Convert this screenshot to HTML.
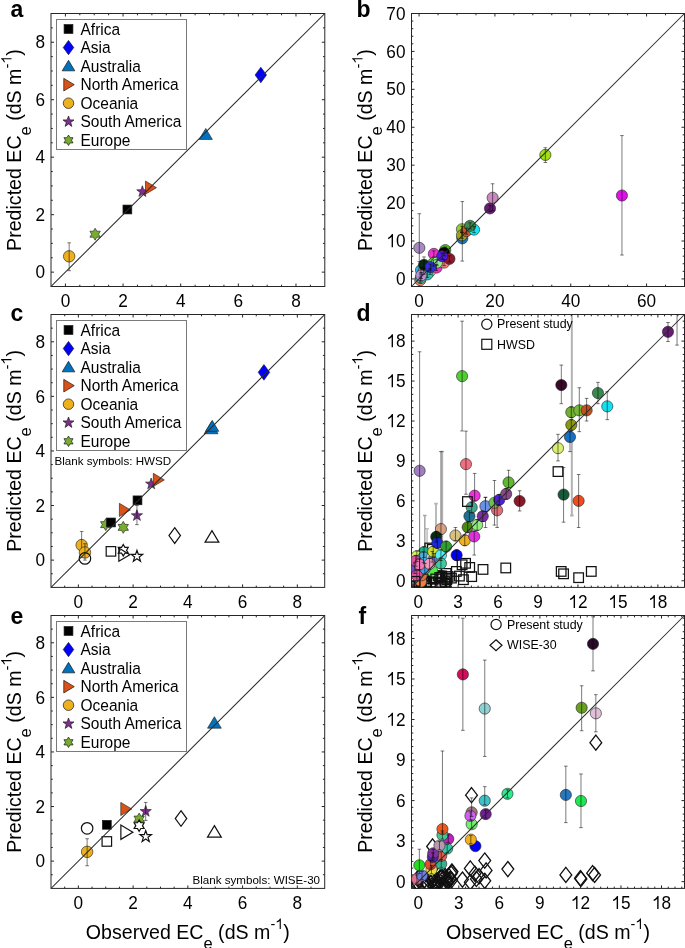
<!DOCTYPE html><html><head><meta charset="utf-8"><style>html,body{margin:0;padding:0;background:#fff;}svg text{fill:#000} svg{will-change:transform}</style></head><body><svg width="685" height="948" viewBox="0 0 685 948" font-family='"Liberation Sans", sans-serif' style="display:block">
<rect width="685" height="948" fill="#fff"/>
<rect x="51" y="13.5" width="273.8" height="273" fill="none" stroke="#262626" stroke-width="1"/>
<path d="M65.41 286.5v-3.0M65.41 13.5v3.0M79.82 286.5v-1.8M79.82 13.5v1.8M94.23 286.5v-1.8M94.23 13.5v1.8M108.64 286.5v-1.8M108.64 13.5v1.8M123.05 286.5v-3.0M123.05 13.5v3.0M137.46 286.5v-1.8M137.46 13.5v1.8M151.87 286.5v-1.8M151.87 13.5v1.8M166.28 286.5v-1.8M166.28 13.5v1.8M180.69 286.5v-3.0M180.69 13.5v3.0M195.11 286.5v-1.8M195.11 13.5v1.8M209.52 286.5v-1.8M209.52 13.5v1.8M223.93 286.5v-1.8M223.93 13.5v1.8M238.34 286.5v-3.0M238.34 13.5v3.0M252.75 286.5v-1.8M252.75 13.5v1.8M267.16 286.5v-1.8M267.16 13.5v1.8M281.57 286.5v-1.8M281.57 13.5v1.8M295.98 286.5v-3.0M295.98 13.5v3.0M310.39 286.5v-1.8M310.39 13.5v1.8M51 272.13h3.0M324.8 272.13h-3.0M51 257.76h1.8M324.8 257.76h-1.8M51 243.39h1.8M324.8 243.39h-1.8M51 229.03h1.8M324.8 229.03h-1.8M51 214.66h3.0M324.8 214.66h-3.0M51 200.29h1.8M324.8 200.29h-1.8M51 185.92h1.8M324.8 185.92h-1.8M51 171.55h1.8M324.8 171.55h-1.8M51 157.18h3.0M324.8 157.18h-3.0M51 142.82h1.8M324.8 142.82h-1.8M51 128.45h1.8M324.8 128.45h-1.8M51 114.08h1.8M324.8 114.08h-1.8M51 99.71h3.0M324.8 99.71h-3.0M51 85.34h1.8M324.8 85.34h-1.8M51 70.97h1.8M324.8 70.97h-1.8M51 56.61h1.8M324.8 56.61h-1.8M51 42.24h3.0M324.8 42.24h-3.0M51 27.87h1.8M324.8 27.87h-1.8" stroke="#262626" stroke-width="1" fill="none"/>
<text transform="translate(60.63,307.2) scale(1,1.06)" font-size="17.2">0</text>
<text transform="translate(118.27,307.2) scale(1,1.06)" font-size="17.2">2</text>
<text transform="translate(175.91,307.2) scale(1,1.06)" font-size="17.2">4</text>
<text transform="translate(233.56,307.2) scale(1,1.06)" font-size="17.2">6</text>
<text transform="translate(291.2,307.2) scale(1,1.06)" font-size="17.2">8</text>
<text transform="translate(35.44,278.28) scale(1,1.06)" font-size="17.2">0</text>
<text transform="translate(35.44,220.81) scale(1,1.06)" font-size="17.2">2</text>
<text transform="translate(35.44,163.33) scale(1,1.06)" font-size="17.2">4</text>
<text transform="translate(35.44,105.86) scale(1,1.06)" font-size="17.2">6</text>
<text transform="translate(35.44,48.39) scale(1,1.06)" font-size="17.2">8</text>
<rect x="411.5" y="13.5" width="273" height="273" fill="none" stroke="#262626" stroke-width="1"/>
<path d="M419.08 286.5v-3.0M419.08 13.5v3.0M438.04 286.5v-1.8M438.04 13.5v1.8M457 286.5v-1.8M457 13.5v1.8M475.96 286.5v-1.8M475.96 13.5v1.8M494.92 286.5v-3.0M494.92 13.5v3.0M513.88 286.5v-1.8M513.88 13.5v1.8M532.83 286.5v-1.8M532.83 13.5v1.8M551.79 286.5v-1.8M551.79 13.5v1.8M570.75 286.5v-3.0M570.75 13.5v3.0M589.71 286.5v-1.8M589.71 13.5v1.8M608.67 286.5v-1.8M608.67 13.5v1.8M627.62 286.5v-1.8M627.62 13.5v1.8M646.58 286.5v-3.0M646.58 13.5v3.0M665.54 286.5v-1.8M665.54 13.5v1.8M411.5 278.92h3.0M684.5 278.92h-3.0M411.5 271.33h1.8M684.5 271.33h-1.8M411.5 263.75h1.8M684.5 263.75h-1.8M411.5 256.17h1.8M684.5 256.17h-1.8M411.5 248.58h1.8M684.5 248.58h-1.8M411.5 241h3.0M684.5 241h-3.0M411.5 233.42h1.8M684.5 233.42h-1.8M411.5 225.83h1.8M684.5 225.83h-1.8M411.5 218.25h1.8M684.5 218.25h-1.8M411.5 210.67h1.8M684.5 210.67h-1.8M411.5 203.08h3.0M684.5 203.08h-3.0M411.5 195.5h1.8M684.5 195.5h-1.8M411.5 187.92h1.8M684.5 187.92h-1.8M411.5 180.33h1.8M684.5 180.33h-1.8M411.5 172.75h1.8M684.5 172.75h-1.8M411.5 165.17h3.0M684.5 165.17h-3.0M411.5 157.58h1.8M684.5 157.58h-1.8M411.5 150h1.8M684.5 150h-1.8M411.5 142.42h1.8M684.5 142.42h-1.8M411.5 134.83h1.8M684.5 134.83h-1.8M411.5 127.25h3.0M684.5 127.25h-3.0M411.5 119.67h1.8M684.5 119.67h-1.8M411.5 112.08h1.8M684.5 112.08h-1.8M411.5 104.5h1.8M684.5 104.5h-1.8M411.5 96.92h1.8M684.5 96.92h-1.8M411.5 89.33h3.0M684.5 89.33h-3.0M411.5 81.75h1.8M684.5 81.75h-1.8M411.5 74.17h1.8M684.5 74.17h-1.8M411.5 66.58h1.8M684.5 66.58h-1.8M411.5 59h1.8M684.5 59h-1.8M411.5 51.42h3.0M684.5 51.42h-3.0M411.5 43.83h1.8M684.5 43.83h-1.8M411.5 36.25h1.8M684.5 36.25h-1.8M411.5 28.67h1.8M684.5 28.67h-1.8M411.5 21.08h1.8M684.5 21.08h-1.8" stroke="#262626" stroke-width="1" fill="none"/>
<text transform="translate(414.3,307.2) scale(1,1.06)" font-size="17.2">0</text>
<text transform="translate(485.35,307.2) scale(1,1.06)" font-size="17.2">2</text>
<text transform="translate(494.92,307.2) scale(1,1.06)" font-size="17.2">0</text>
<text transform="translate(561.19,307.2) scale(1,1.06)" font-size="17.2">4</text>
<text transform="translate(570.75,307.2) scale(1,1.06)" font-size="17.2">0</text>
<text transform="translate(637.02,307.2) scale(1,1.06)" font-size="17.2">6</text>
<text transform="translate(646.58,307.2) scale(1,1.06)" font-size="17.2">0</text>
<text transform="translate(395.94,285.07) scale(1,1.06)" font-size="17.2">0</text>
<path transform="translate(386.37,247.15) scale(17.2,-18.23)" d="M0.385 0L0.305 0L0.305 0.555C0.255 0.51 0.17 0.465 0.1 0.44L0.1 0.52C0.2 0.56 0.28 0.63 0.325 0.716L0.385 0.716Z" fill="#000"/>
<text transform="translate(395.94,247.15) scale(1,1.06)" font-size="17.2">0</text>
<text transform="translate(386.37,209.23) scale(1,1.06)" font-size="17.2">2</text>
<text transform="translate(395.94,209.23) scale(1,1.06)" font-size="17.2">0</text>
<text transform="translate(386.37,171.32) scale(1,1.06)" font-size="17.2">3</text>
<text transform="translate(395.94,171.32) scale(1,1.06)" font-size="17.2">0</text>
<text transform="translate(386.37,133.4) scale(1,1.06)" font-size="17.2">4</text>
<text transform="translate(395.94,133.4) scale(1,1.06)" font-size="17.2">0</text>
<text transform="translate(386.37,95.48) scale(1,1.06)" font-size="17.2">5</text>
<text transform="translate(395.94,95.48) scale(1,1.06)" font-size="17.2">0</text>
<text transform="translate(386.37,57.57) scale(1,1.06)" font-size="17.2">6</text>
<text transform="translate(395.94,57.57) scale(1,1.06)" font-size="17.2">0</text>
<text transform="translate(386.37,19.65) scale(1,1.06)" font-size="17.2">7</text>
<text transform="translate(395.94,19.65) scale(1,1.06)" font-size="17.2">0</text>
<rect x="51" y="314.5" width="273.7" height="272.9" fill="none" stroke="#262626" stroke-width="1"/>
<path d="M64.69 587.4v-1.8M64.69 314.5v1.8M78.37 587.4v-3.0M78.37 314.5v3.0M92.06 587.4v-1.8M92.06 314.5v1.8M105.74 587.4v-1.8M105.74 314.5v1.8M119.42 587.4v-1.8M119.42 314.5v1.8M133.11 587.4v-3.0M133.11 314.5v3.0M146.79 587.4v-1.8M146.79 314.5v1.8M160.48 587.4v-1.8M160.48 314.5v1.8M174.16 587.4v-1.8M174.16 314.5v1.8M187.85 587.4v-3.0M187.85 314.5v3.0M201.53 587.4v-1.8M201.53 314.5v1.8M215.22 587.4v-1.8M215.22 314.5v1.8M228.91 587.4v-1.8M228.91 314.5v1.8M242.59 587.4v-3.0M242.59 314.5v3.0M256.27 587.4v-1.8M256.27 314.5v1.8M269.96 587.4v-1.8M269.96 314.5v1.8M283.64 587.4v-1.8M283.64 314.5v1.8M297.33 587.4v-3.0M297.33 314.5v3.0M311.01 587.4v-1.8M311.01 314.5v1.8M51 573.75h1.8M324.7 573.75h-1.8M51 560.11h3.0M324.7 560.11h-3.0M51 546.47h1.8M324.7 546.47h-1.8M51 532.82h1.8M324.7 532.82h-1.8M51 519.17h1.8M324.7 519.17h-1.8M51 505.53h3.0M324.7 505.53h-3.0M51 491.88h1.8M324.7 491.88h-1.8M51 478.24h1.8M324.7 478.24h-1.8M51 464.59h1.8M324.7 464.59h-1.8M51 450.95h3.0M324.7 450.95h-3.0M51 437.3h1.8M324.7 437.3h-1.8M51 423.66h1.8M324.7 423.66h-1.8M51 410.01h1.8M324.7 410.01h-1.8M51 396.37h3.0M324.7 396.37h-3.0M51 382.73h1.8M324.7 382.73h-1.8M51 369.08h1.8M324.7 369.08h-1.8M51 355.44h1.8M324.7 355.44h-1.8M51 341.79h3.0M324.7 341.79h-3.0M51 328.15h1.8M324.7 328.15h-1.8" stroke="#262626" stroke-width="1" fill="none"/>
<text transform="translate(73.59,608.1) scale(1,1.06)" font-size="17.2">0</text>
<text transform="translate(128.33,608.1) scale(1,1.06)" font-size="17.2">2</text>
<text transform="translate(183.07,608.1) scale(1,1.06)" font-size="17.2">4</text>
<text transform="translate(237.81,608.1) scale(1,1.06)" font-size="17.2">6</text>
<text transform="translate(292.55,608.1) scale(1,1.06)" font-size="17.2">8</text>
<text transform="translate(35.44,566.26) scale(1,1.06)" font-size="17.2">0</text>
<text transform="translate(35.44,511.68) scale(1,1.06)" font-size="17.2">2</text>
<text transform="translate(35.44,457.1) scale(1,1.06)" font-size="17.2">4</text>
<text transform="translate(35.44,402.52) scale(1,1.06)" font-size="17.2">6</text>
<text transform="translate(35.44,347.94) scale(1,1.06)" font-size="17.2">8</text>
<rect x="411.5" y="314.5" width="273" height="272.9" fill="none" stroke="#262626" stroke-width="1"/>
<path d="M418.16 587.4v-3.0M418.16 314.5v3.0M424.82 587.4v-1.8M424.82 314.5v1.8M431.48 587.4v-1.8M431.48 314.5v1.8M438.13 587.4v-1.8M438.13 314.5v1.8M444.79 587.4v-1.8M444.79 314.5v1.8M451.45 587.4v-1.8M451.45 314.5v1.8M458.11 587.4v-3.0M458.11 314.5v3.0M464.77 587.4v-1.8M464.77 314.5v1.8M471.43 587.4v-1.8M471.43 314.5v1.8M478.09 587.4v-1.8M478.09 314.5v1.8M484.74 587.4v-1.8M484.74 314.5v1.8M491.4 587.4v-1.8M491.4 314.5v1.8M498.06 587.4v-3.0M498.06 314.5v3.0M504.72 587.4v-1.8M504.72 314.5v1.8M511.38 587.4v-1.8M511.38 314.5v1.8M518.04 587.4v-1.8M518.04 314.5v1.8M524.7 587.4v-1.8M524.7 314.5v1.8M531.35 587.4v-1.8M531.35 314.5v1.8M538.01 587.4v-3.0M538.01 314.5v3.0M544.67 587.4v-1.8M544.67 314.5v1.8M551.33 587.4v-1.8M551.33 314.5v1.8M557.99 587.4v-1.8M557.99 314.5v1.8M564.65 587.4v-1.8M564.65 314.5v1.8M571.3 587.4v-1.8M571.3 314.5v1.8M577.96 587.4v-3.0M577.96 314.5v3.0M584.62 587.4v-1.8M584.62 314.5v1.8M591.28 587.4v-1.8M591.28 314.5v1.8M597.94 587.4v-1.8M597.94 314.5v1.8M604.6 587.4v-1.8M604.6 314.5v1.8M611.26 587.4v-1.8M611.26 314.5v1.8M617.91 587.4v-3.0M617.91 314.5v3.0M624.57 587.4v-1.8M624.57 314.5v1.8M631.23 587.4v-1.8M631.23 314.5v1.8M637.89 587.4v-1.8M637.89 314.5v1.8M644.55 587.4v-1.8M644.55 314.5v1.8M651.21 587.4v-1.8M651.21 314.5v1.8M657.87 587.4v-3.0M657.87 314.5v3.0M664.52 587.4v-1.8M664.52 314.5v1.8M671.18 587.4v-1.8M671.18 314.5v1.8M677.84 587.4v-1.8M677.84 314.5v1.8M411.5 580.74h3.0M684.5 580.74h-3.0M411.5 574.09h1.8M684.5 574.09h-1.8M411.5 567.43h1.8M684.5 567.43h-1.8M411.5 560.78h1.8M684.5 560.78h-1.8M411.5 554.12h1.8M684.5 554.12h-1.8M411.5 547.46h1.8M684.5 547.46h-1.8M411.5 540.81h3.0M684.5 540.81h-3.0M411.5 534.15h1.8M684.5 534.15h-1.8M411.5 527.5h1.8M684.5 527.5h-1.8M411.5 520.84h1.8M684.5 520.84h-1.8M411.5 514.18h1.8M684.5 514.18h-1.8M411.5 507.53h1.8M684.5 507.53h-1.8M411.5 500.87h3.0M684.5 500.87h-3.0M411.5 494.21h1.8M684.5 494.21h-1.8M411.5 487.56h1.8M684.5 487.56h-1.8M411.5 480.9h1.8M684.5 480.9h-1.8M411.5 474.25h1.8M684.5 474.25h-1.8M411.5 467.59h1.8M684.5 467.59h-1.8M411.5 460.93h3.0M684.5 460.93h-3.0M411.5 454.28h1.8M684.5 454.28h-1.8M411.5 447.62h1.8M684.5 447.62h-1.8M411.5 440.97h1.8M684.5 440.97h-1.8M411.5 434.31h1.8M684.5 434.31h-1.8M411.5 427.65h1.8M684.5 427.65h-1.8M411.5 421h3.0M684.5 421h-3.0M411.5 414.34h1.8M684.5 414.34h-1.8M411.5 407.69h1.8M684.5 407.69h-1.8M411.5 401.03h1.8M684.5 401.03h-1.8M411.5 394.37h1.8M684.5 394.37h-1.8M411.5 387.72h1.8M684.5 387.72h-1.8M411.5 381.06h3.0M684.5 381.06h-3.0M411.5 374.4h1.8M684.5 374.4h-1.8M411.5 367.75h1.8M684.5 367.75h-1.8M411.5 361.09h1.8M684.5 361.09h-1.8M411.5 354.44h1.8M684.5 354.44h-1.8M411.5 347.78h1.8M684.5 347.78h-1.8M411.5 341.12h3.0M684.5 341.12h-3.0M411.5 334.47h1.8M684.5 334.47h-1.8M411.5 327.81h1.8M684.5 327.81h-1.8M411.5 321.16h1.8M684.5 321.16h-1.8" stroke="#262626" stroke-width="1" fill="none"/>
<text transform="translate(413.38,608.1) scale(1,1.06)" font-size="17.2">0</text>
<text transform="translate(453.33,608.1) scale(1,1.06)" font-size="17.2">3</text>
<text transform="translate(493.28,608.1) scale(1,1.06)" font-size="17.2">6</text>
<text transform="translate(533.23,608.1) scale(1,1.06)" font-size="17.2">9</text>
<path transform="translate(568.4,608.1) scale(17.2,-18.23)" d="M0.385 0L0.305 0L0.305 0.555C0.255 0.51 0.17 0.465 0.1 0.44L0.1 0.52C0.2 0.56 0.28 0.63 0.325 0.716L0.385 0.716Z" fill="#000"/>
<text transform="translate(577.96,608.1) scale(1,1.06)" font-size="17.2">2</text>
<path transform="translate(608.35,608.1) scale(17.2,-18.23)" d="M0.385 0L0.305 0L0.305 0.555C0.255 0.51 0.17 0.465 0.1 0.44L0.1 0.52C0.2 0.56 0.28 0.63 0.325 0.716L0.385 0.716Z" fill="#000"/>
<text transform="translate(617.91,608.1) scale(1,1.06)" font-size="17.2">5</text>
<path transform="translate(648.3,608.1) scale(17.2,-18.23)" d="M0.385 0L0.305 0L0.305 0.555C0.255 0.51 0.17 0.465 0.1 0.44L0.1 0.52C0.2 0.56 0.28 0.63 0.325 0.716L0.385 0.716Z" fill="#000"/>
<text transform="translate(657.87,608.1) scale(1,1.06)" font-size="17.2">8</text>
<text transform="translate(395.94,586.89) scale(1,1.06)" font-size="17.2">0</text>
<text transform="translate(395.94,546.96) scale(1,1.06)" font-size="17.2">3</text>
<text transform="translate(395.94,507.02) scale(1,1.06)" font-size="17.2">6</text>
<text transform="translate(395.94,467.08) scale(1,1.06)" font-size="17.2">9</text>
<path transform="translate(386.37,427.15) scale(17.2,-18.23)" d="M0.385 0L0.305 0L0.305 0.555C0.255 0.51 0.17 0.465 0.1 0.44L0.1 0.52C0.2 0.56 0.28 0.63 0.325 0.716L0.385 0.716Z" fill="#000"/>
<text transform="translate(395.94,427.15) scale(1,1.06)" font-size="17.2">2</text>
<path transform="translate(386.37,387.21) scale(17.2,-18.23)" d="M0.385 0L0.305 0L0.305 0.555C0.255 0.51 0.17 0.465 0.1 0.44L0.1 0.52C0.2 0.56 0.28 0.63 0.325 0.716L0.385 0.716Z" fill="#000"/>
<text transform="translate(395.94,387.21) scale(1,1.06)" font-size="17.2">5</text>
<path transform="translate(386.37,347.27) scale(17.2,-18.23)" d="M0.385 0L0.305 0L0.305 0.555C0.255 0.51 0.17 0.465 0.1 0.44L0.1 0.52C0.2 0.56 0.28 0.63 0.325 0.716L0.385 0.716Z" fill="#000"/>
<text transform="translate(395.94,347.27) scale(1,1.06)" font-size="17.2">8</text>
<rect x="51" y="615.5" width="273.7" height="272.9" fill="none" stroke="#262626" stroke-width="1"/>
<path d="M64.69 888.4v-1.8M64.69 615.5v1.8M78.37 888.4v-3.0M78.37 615.5v3.0M92.06 888.4v-1.8M92.06 615.5v1.8M105.74 888.4v-1.8M105.74 615.5v1.8M119.42 888.4v-1.8M119.42 615.5v1.8M133.11 888.4v-3.0M133.11 615.5v3.0M146.79 888.4v-1.8M146.79 615.5v1.8M160.48 888.4v-1.8M160.48 615.5v1.8M174.16 888.4v-1.8M174.16 615.5v1.8M187.85 888.4v-3.0M187.85 615.5v3.0M201.53 888.4v-1.8M201.53 615.5v1.8M215.22 888.4v-1.8M215.22 615.5v1.8M228.91 888.4v-1.8M228.91 615.5v1.8M242.59 888.4v-3.0M242.59 615.5v3.0M256.27 888.4v-1.8M256.27 615.5v1.8M269.96 888.4v-1.8M269.96 615.5v1.8M283.64 888.4v-1.8M283.64 615.5v1.8M297.33 888.4v-3.0M297.33 615.5v3.0M311.01 888.4v-1.8M311.01 615.5v1.8M51 874.75h1.8M324.7 874.75h-1.8M51 861.11h3.0M324.7 861.11h-3.0M51 847.47h1.8M324.7 847.47h-1.8M51 833.82h1.8M324.7 833.82h-1.8M51 820.17h1.8M324.7 820.17h-1.8M51 806.53h3.0M324.7 806.53h-3.0M51 792.88h1.8M324.7 792.88h-1.8M51 779.24h1.8M324.7 779.24h-1.8M51 765.6h1.8M324.7 765.6h-1.8M51 751.95h3.0M324.7 751.95h-3.0M51 738.3h1.8M324.7 738.3h-1.8M51 724.66h1.8M324.7 724.66h-1.8M51 711.01h1.8M324.7 711.01h-1.8M51 697.37h3.0M324.7 697.37h-3.0M51 683.73h1.8M324.7 683.73h-1.8M51 670.08h1.8M324.7 670.08h-1.8M51 656.43h1.8M324.7 656.43h-1.8M51 642.79h3.0M324.7 642.79h-3.0M51 629.14h1.8M324.7 629.14h-1.8" stroke="#262626" stroke-width="1" fill="none"/>
<text transform="translate(73.59,909.1) scale(1,1.06)" font-size="17.2">0</text>
<text transform="translate(128.33,909.1) scale(1,1.06)" font-size="17.2">2</text>
<text transform="translate(183.07,909.1) scale(1,1.06)" font-size="17.2">4</text>
<text transform="translate(237.81,909.1) scale(1,1.06)" font-size="17.2">6</text>
<text transform="translate(292.55,909.1) scale(1,1.06)" font-size="17.2">8</text>
<text transform="translate(35.44,867.26) scale(1,1.06)" font-size="17.2">0</text>
<text transform="translate(35.44,812.68) scale(1,1.06)" font-size="17.2">2</text>
<text transform="translate(35.44,758.1) scale(1,1.06)" font-size="17.2">4</text>
<text transform="translate(35.44,703.52) scale(1,1.06)" font-size="17.2">6</text>
<text transform="translate(35.44,648.94) scale(1,1.06)" font-size="17.2">8</text>
<rect x="411.5" y="615.5" width="273" height="272.9" fill="none" stroke="#262626" stroke-width="1"/>
<path d="M418.26 888.4v-3.0M418.26 615.5v3.0M425.01 888.4v-1.8M425.01 615.5v1.8M431.77 888.4v-1.8M431.77 615.5v1.8M438.53 888.4v-1.8M438.53 615.5v1.8M445.29 888.4v-1.8M445.29 615.5v1.8M452.04 888.4v-1.8M452.04 615.5v1.8M458.8 888.4v-3.0M458.8 615.5v3.0M465.56 888.4v-1.8M465.56 615.5v1.8M472.32 888.4v-1.8M472.32 615.5v1.8M479.07 888.4v-1.8M479.07 615.5v1.8M485.83 888.4v-1.8M485.83 615.5v1.8M492.59 888.4v-1.8M492.59 615.5v1.8M499.35 888.4v-3.0M499.35 615.5v3.0M506.1 888.4v-1.8M506.1 615.5v1.8M512.86 888.4v-1.8M512.86 615.5v1.8M519.62 888.4v-1.8M519.62 615.5v1.8M526.38 888.4v-1.8M526.38 615.5v1.8M533.13 888.4v-1.8M533.13 615.5v1.8M539.89 888.4v-3.0M539.89 615.5v3.0M546.65 888.4v-1.8M546.65 615.5v1.8M553.41 888.4v-1.8M553.41 615.5v1.8M560.16 888.4v-1.8M560.16 615.5v1.8M566.92 888.4v-1.8M566.92 615.5v1.8M573.68 888.4v-1.8M573.68 615.5v1.8M580.44 888.4v-3.0M580.44 615.5v3.0M587.19 888.4v-1.8M587.19 615.5v1.8M593.95 888.4v-1.8M593.95 615.5v1.8M600.71 888.4v-1.8M600.71 615.5v1.8M607.47 888.4v-1.8M607.47 615.5v1.8M614.22 888.4v-1.8M614.22 615.5v1.8M620.98 888.4v-3.0M620.98 615.5v3.0M627.74 888.4v-1.8M627.74 615.5v1.8M634.5 888.4v-1.8M634.5 615.5v1.8M641.25 888.4v-1.8M641.25 615.5v1.8M648.01 888.4v-1.8M648.01 615.5v1.8M654.77 888.4v-1.8M654.77 615.5v1.8M661.52 888.4v-3.0M661.52 615.5v3.0M668.28 888.4v-1.8M668.28 615.5v1.8M675.04 888.4v-1.8M675.04 615.5v1.8M681.8 888.4v-1.8M681.8 615.5v1.8M411.5 881.65h3.0M684.5 881.65h-3.0M411.5 874.89h1.8M684.5 874.89h-1.8M411.5 868.14h1.8M684.5 868.14h-1.8M411.5 861.38h1.8M684.5 861.38h-1.8M411.5 854.63h1.8M684.5 854.63h-1.8M411.5 847.87h1.8M684.5 847.87h-1.8M411.5 841.12h3.0M684.5 841.12h-3.0M411.5 834.36h1.8M684.5 834.36h-1.8M411.5 827.61h1.8M684.5 827.61h-1.8M411.5 820.85h1.8M684.5 820.85h-1.8M411.5 814.1h1.8M684.5 814.1h-1.8M411.5 807.34h1.8M684.5 807.34h-1.8M411.5 800.59h3.0M684.5 800.59h-3.0M411.5 793.83h1.8M684.5 793.83h-1.8M411.5 787.08h1.8M684.5 787.08h-1.8M411.5 780.32h1.8M684.5 780.32h-1.8M411.5 773.57h1.8M684.5 773.57h-1.8M411.5 766.81h1.8M684.5 766.81h-1.8M411.5 760.06h3.0M684.5 760.06h-3.0M411.5 753.3h1.8M684.5 753.3h-1.8M411.5 746.55h1.8M684.5 746.55h-1.8M411.5 739.79h1.8M684.5 739.79h-1.8M411.5 733.04h1.8M684.5 733.04h-1.8M411.5 726.28h1.8M684.5 726.28h-1.8M411.5 719.53h3.0M684.5 719.53h-3.0M411.5 712.77h1.8M684.5 712.77h-1.8M411.5 706.02h1.8M684.5 706.02h-1.8M411.5 699.26h1.8M684.5 699.26h-1.8M411.5 692.51h1.8M684.5 692.51h-1.8M411.5 685.75h1.8M684.5 685.75h-1.8M411.5 679h3.0M684.5 679h-3.0M411.5 672.24h1.8M684.5 672.24h-1.8M411.5 665.49h1.8M684.5 665.49h-1.8M411.5 658.73h1.8M684.5 658.73h-1.8M411.5 651.98h1.8M684.5 651.98h-1.8M411.5 645.22h1.8M684.5 645.22h-1.8M411.5 638.47h3.0M684.5 638.47h-3.0M411.5 631.71h1.8M684.5 631.71h-1.8M411.5 624.96h1.8M684.5 624.96h-1.8M411.5 618.2h1.8M684.5 618.2h-1.8" stroke="#262626" stroke-width="1" fill="none"/>
<text transform="translate(413.48,909.1) scale(1,1.06)" font-size="17.2">0</text>
<text transform="translate(454.02,909.1) scale(1,1.06)" font-size="17.2">3</text>
<text transform="translate(494.56,909.1) scale(1,1.06)" font-size="17.2">6</text>
<text transform="translate(535.11,909.1) scale(1,1.06)" font-size="17.2">9</text>
<path transform="translate(570.87,909.1) scale(17.2,-18.23)" d="M0.385 0L0.305 0L0.305 0.555C0.255 0.51 0.17 0.465 0.1 0.44L0.1 0.52C0.2 0.56 0.28 0.63 0.325 0.716L0.385 0.716Z" fill="#000"/>
<text transform="translate(580.44,909.1) scale(1,1.06)" font-size="17.2">2</text>
<path transform="translate(611.42,909.1) scale(17.2,-18.23)" d="M0.385 0L0.305 0L0.305 0.555C0.255 0.51 0.17 0.465 0.1 0.44L0.1 0.52C0.2 0.56 0.28 0.63 0.325 0.716L0.385 0.716Z" fill="#000"/>
<text transform="translate(620.98,909.1) scale(1,1.06)" font-size="17.2">5</text>
<path transform="translate(651.96,909.1) scale(17.2,-18.23)" d="M0.385 0L0.305 0L0.305 0.555C0.255 0.51 0.17 0.465 0.1 0.44L0.1 0.52C0.2 0.56 0.28 0.63 0.325 0.716L0.385 0.716Z" fill="#000"/>
<text transform="translate(661.52,909.1) scale(1,1.06)" font-size="17.2">8</text>
<text transform="translate(395.94,887.8) scale(1,1.06)" font-size="17.2">0</text>
<text transform="translate(395.94,847.27) scale(1,1.06)" font-size="17.2">3</text>
<text transform="translate(395.94,806.74) scale(1,1.06)" font-size="17.2">6</text>
<text transform="translate(395.94,766.21) scale(1,1.06)" font-size="17.2">9</text>
<path transform="translate(386.37,725.68) scale(17.2,-18.23)" d="M0.385 0L0.305 0L0.305 0.555C0.255 0.51 0.17 0.465 0.1 0.44L0.1 0.52C0.2 0.56 0.28 0.63 0.325 0.716L0.385 0.716Z" fill="#000"/>
<text transform="translate(395.94,725.68) scale(1,1.06)" font-size="17.2">2</text>
<path transform="translate(386.37,685.15) scale(17.2,-18.23)" d="M0.385 0L0.305 0L0.305 0.555C0.255 0.51 0.17 0.465 0.1 0.44L0.1 0.52C0.2 0.56 0.28 0.63 0.325 0.716L0.385 0.716Z" fill="#000"/>
<text transform="translate(395.94,685.15) scale(1,1.06)" font-size="17.2">5</text>
<path transform="translate(386.37,644.62) scale(17.2,-18.23)" d="M0.385 0L0.305 0L0.305 0.555C0.255 0.51 0.17 0.465 0.1 0.44L0.1 0.52C0.2 0.56 0.28 0.63 0.325 0.716L0.385 0.716Z" fill="#000"/>
<text transform="translate(395.94,644.62) scale(1,1.06)" font-size="17.2">8</text>
<g transform="translate(21,150) rotate(-90)"><text text-anchor="middle" font-size="19.6">Predicted EC<tspan font-size="16.5" dy="10">e</tspan><tspan dy="-10"> (dS m</tspan><tspan font-size="14.5" dy="-9.5">-</tspan><tspan font-size="14.5" fill="transparent">1</tspan><tspan dy="9.5">)</tspan></text><path transform="translate(86.29,-9.5) scale(14.5,-14.5)" d="M0.385 0L0.305 0L0.305 0.555C0.255 0.51 0.17 0.465 0.1 0.44L0.1 0.52C0.2 0.56 0.28 0.63 0.325 0.716L0.385 0.716Z" fill="#000"/></g>
<g transform="translate(21,450.95) rotate(-90)"><text text-anchor="middle" font-size="19.6">Predicted EC<tspan font-size="16.5" dy="10">e</tspan><tspan dy="-10"> (dS m</tspan><tspan font-size="14.5" dy="-9.5">-</tspan><tspan font-size="14.5" fill="transparent">1</tspan><tspan dy="9.5">)</tspan></text><path transform="translate(86.29,-9.5) scale(14.5,-14.5)" d="M0.385 0L0.305 0L0.305 0.555C0.255 0.51 0.17 0.465 0.1 0.44L0.1 0.52C0.2 0.56 0.28 0.63 0.325 0.716L0.385 0.716Z" fill="#000"/></g>
<g transform="translate(21,751.95) rotate(-90)"><text text-anchor="middle" font-size="19.6">Predicted EC<tspan font-size="16.5" dy="10">e</tspan><tspan dy="-10"> (dS m</tspan><tspan font-size="14.5" dy="-9.5">-</tspan><tspan font-size="14.5" fill="transparent">1</tspan><tspan dy="9.5">)</tspan></text><path transform="translate(86.29,-9.5) scale(14.5,-14.5)" d="M0.385 0L0.305 0L0.305 0.555C0.255 0.51 0.17 0.465 0.1 0.44L0.1 0.52C0.2 0.56 0.28 0.63 0.325 0.716L0.385 0.716Z" fill="#000"/></g>
<g transform="translate(372,150) rotate(-90)"><text text-anchor="middle" font-size="19.6">Predicted EC<tspan font-size="16.5" dy="10">e</tspan><tspan dy="-10"> (dS m</tspan><tspan font-size="14.5" dy="-9.5">-</tspan><tspan font-size="14.5" fill="transparent">1</tspan><tspan dy="9.5">)</tspan></text><path transform="translate(86.29,-9.5) scale(14.5,-14.5)" d="M0.385 0L0.305 0L0.305 0.555C0.255 0.51 0.17 0.465 0.1 0.44L0.1 0.52C0.2 0.56 0.28 0.63 0.325 0.716L0.385 0.716Z" fill="#000"/></g>
<g transform="translate(372,450.95) rotate(-90)"><text text-anchor="middle" font-size="19.6">Predicted EC<tspan font-size="16.5" dy="10">e</tspan><tspan dy="-10"> (dS m</tspan><tspan font-size="14.5" dy="-9.5">-</tspan><tspan font-size="14.5" fill="transparent">1</tspan><tspan dy="9.5">)</tspan></text><path transform="translate(86.29,-9.5) scale(14.5,-14.5)" d="M0.385 0L0.305 0L0.305 0.555C0.255 0.51 0.17 0.465 0.1 0.44L0.1 0.52C0.2 0.56 0.28 0.63 0.325 0.716L0.385 0.716Z" fill="#000"/></g>
<g transform="translate(372,751.95) rotate(-90)"><text text-anchor="middle" font-size="19.6">Predicted EC<tspan font-size="16.5" dy="10">e</tspan><tspan dy="-10"> (dS m</tspan><tspan font-size="14.5" dy="-9.5">-</tspan><tspan font-size="14.5" fill="transparent">1</tspan><tspan dy="9.5">)</tspan></text><path transform="translate(86.29,-9.5) scale(14.5,-14.5)" d="M0.385 0L0.305 0L0.305 0.555C0.255 0.51 0.17 0.465 0.1 0.44L0.1 0.52C0.2 0.56 0.28 0.63 0.325 0.716L0.385 0.716Z" fill="#000"/></g>
<g transform="translate(187.85,938.5)"><text text-anchor="middle" font-size="19.6">Observed EC<tspan font-size="16.5" dy="10">e</tspan><tspan dy="-10"> (dS m</tspan><tspan font-size="14.5" dy="-9.5">-</tspan><tspan font-size="14.5" fill="transparent">1</tspan><tspan dy="9.5">)</tspan></text><path transform="translate(87.38,-9.5) scale(14.5,-14.5)" d="M0.385 0L0.305 0L0.305 0.555C0.255 0.51 0.17 0.465 0.1 0.44L0.1 0.52C0.2 0.56 0.28 0.63 0.325 0.716L0.385 0.716Z" fill="#000"/></g>
<g transform="translate(548,938.5)"><text text-anchor="middle" font-size="19.6">Observed EC<tspan font-size="16.5" dy="10">e</tspan><tspan dy="-10"> (dS m</tspan><tspan font-size="14.5" dy="-9.5">-</tspan><tspan font-size="14.5" fill="transparent">1</tspan><tspan dy="9.5">)</tspan></text><path transform="translate(87.38,-9.5) scale(14.5,-14.5)" d="M0.385 0L0.305 0L0.305 0.555C0.255 0.51 0.17 0.465 0.1 0.44L0.1 0.52C0.2 0.56 0.28 0.63 0.325 0.716L0.385 0.716Z" fill="#000"/></g>
<text x="10.5" y="17.2" font-size="23" font-weight="bold">a</text>
<text x="356.5" y="17.2" font-size="23" font-weight="bold">b</text>
<text x="10.5" y="321.0" font-size="23" font-weight="bold">c</text>
<text x="356.5" y="321.0" font-size="23" font-weight="bold">d</text>
<text x="10.5" y="624.2" font-size="23" font-weight="bold">e</text>
<text x="358.5" y="624.2" font-size="23" font-weight="bold">f</text>
<defs><clipPath id="cla"><rect x="51" y="13.5" width="273.8" height="273"/></clipPath><clipPath id="clb"><rect x="411.5" y="13.5" width="273" height="273"/></clipPath><clipPath id="clc"><rect x="51" y="314.5" width="273.7" height="272.9"/></clipPath><clipPath id="cld"><rect x="411.5" y="314.5" width="273" height="272.9"/></clipPath><clipPath id="cle"><rect x="51" y="615.5" width="273.7" height="272.9"/></clipPath><clipPath id="clf"><rect x="411.5" y="615.5" width="273" height="272.9"/></clipPath></defs>
<g clip-path="url(#cla)">
<circle cx="69.16" cy="256.33" r="5.75" fill="#EDB120" stroke="#1a1a1a" stroke-width="0.6"/>
<path d="M69.16 270.69V242.82M67.36 270.69h3.6M67.36 242.82h3.6" stroke="#000" stroke-opacity="0.52" stroke-width="1.0" fill="none"/>
<path d="M95.1 228.2L96.84 231.19L100.29 231.2L98.58 234.2L100.29 237.2L96.84 237.21L95.1 240.2L93.36 237.21L89.9 237.2L91.62 234.2L89.9 231.2L93.36 231.19Z" fill="#77AC30" stroke="#1a1a1a" stroke-width="0.6"/>
<rect x="122.97" y="205.08" width="8.82" height="8.82" fill="#000000" stroke="#1a1a1a" stroke-width="0.7"/>
<path d="M142.36 185.73L143.76 189.75L148.01 189.83L144.62 192.4L145.85 196.47L142.36 194.04L138.87 196.47L140.1 192.4L136.71 189.83L140.97 189.75Z" fill="#7E2F8E" stroke="#1a1a1a" stroke-width="0.6"/>
<path d="M156.48 187.65L145.48 181.05L145.48 194.25Z" fill="#D95319" stroke="#1a1a1a" stroke-width="0.6"/>
<path d="M205.77 128.43L212.37 139.43L199.17 139.43Z" fill="#0072BD" stroke="#1a1a1a" stroke-width="0.6"/>
<path d="M260.82 67.18L266.57 75L260.82 82.82L255.07 75Z" fill="#0000FF" stroke="#1a1a1a" stroke-width="0.6"/>
</g>
<g clip-path="url(#clc)">
<circle cx="81.65" cy="545.1" r="5.75" fill="#EDB120" stroke="#1a1a1a" stroke-width="0.6"/>
<path d="M81.65 557.38V531.46M79.85 557.38h3.6M79.85 531.46h3.6" stroke="#000" stroke-opacity="0.52" stroke-width="1.0" fill="none"/>
<circle cx="84.94" cy="552.47" r="5.75" fill="#EDB120" stroke="#1a1a1a" stroke-width="0.6"/>
<path d="M84.94 560.11V543.74M83.14 560.11h3.6M83.14 543.74h3.6" stroke="#000" stroke-opacity="0.52" stroke-width="1.0" fill="none"/>
<circle cx="84.94" cy="558.47" r="5.75" fill="none" stroke="#111" stroke-width="1.2"/>
<rect x="106.19" y="546.63" width="9.49" height="9.49" fill="none" stroke="#111" stroke-width="1.2"/>
<path d="M123.26 544.54L124.92 547.4L128.24 547.41L126.59 550.29L128.24 553.16L124.92 553.17L123.26 556.04L121.59 553.17L118.28 553.16L119.92 550.29L118.28 547.41L121.59 547.4Z" fill="#fff" stroke="#111" stroke-width="1.2"/>
<path d="M129.85 554.65L118.85 548.05L118.85 561.25Z" fill="none" stroke="#111" stroke-width="1.2"/>
<path d="M136.94 550.24L138.36 554.33L142.7 554.42L139.24 557.04L140.5 561.18L136.94 558.71L133.39 561.18L134.64 557.04L131.19 554.42L135.52 554.33Z" fill="#fff" stroke="#111" stroke-width="1.2"/>
<path d="M174.71 527.73L180.46 535.55L174.71 543.37L168.96 535.55Z" fill="none" stroke="#111" stroke-width="1.2"/>
<path d="M211.94 530.59L218.84 542.09L205.04 542.09Z" fill="none" stroke="#111" stroke-width="1.2"/>
<path d="M105.74 518.63L107.48 521.62L110.94 521.63L109.22 524.63L110.94 527.63L107.48 527.65L105.74 530.63L104 527.65L100.54 527.63L102.26 524.63L100.54 521.63L104 521.62Z" fill="#77AC30" stroke="#1a1a1a" stroke-width="0.6"/>
<rect x="106.53" y="518.04" width="8.82" height="8.82" fill="#000000" stroke="#1a1a1a" stroke-width="0.7"/>
<path d="M123.26 521.36L125 524.35L128.45 524.36L126.74 527.36L128.45 530.36L125 530.38L123.26 533.36L121.52 530.38L118.06 530.36L119.78 527.36L118.06 524.36L121.52 524.35Z" fill="#77AC30" stroke="#1a1a1a" stroke-width="0.6"/>
<path d="M130.4 509.9L119.4 503.3L119.4 516.5Z" fill="#D95319" stroke="#1a1a1a" stroke-width="0.6"/>
<path d="M136.94 509.69L138.34 513.71L142.59 513.79L139.2 516.36L140.43 520.43L136.94 518L133.45 520.43L134.68 516.36L131.29 513.79L135.55 513.71Z" fill="#7E2F8E" stroke="#1a1a1a" stroke-width="0.6"/>
<path d="M136.94 524.63V505.53M135.14 524.63h3.6M135.14 505.53h3.6" stroke="#000" stroke-opacity="0.52" stroke-width="1.0" fill="none"/>
<rect x="133.08" y="495.93" width="8.82" height="8.82" fill="#000000" stroke="#1a1a1a" stroke-width="0.7"/>
<path d="M151.17 478.03L152.57 482.05L156.82 482.14L153.43 484.71L154.67 488.78L151.17 486.35L147.68 488.78L148.91 484.71L145.52 482.14L149.78 482.05Z" fill="#7E2F8E" stroke="#1a1a1a" stroke-width="0.6"/>
<path d="M164.34 479.88L153.34 473.28L153.34 486.48Z" fill="#D95319" stroke="#1a1a1a" stroke-width="0.6"/>
<path d="M211.11 422.25L218.01 433.75L204.21 433.75Z" fill="#0072BD" stroke="#1a1a1a" stroke-width="0.6"/>
<path d="M212.21 420.34L218.81 431.34L205.61 431.34Z" fill="#0072BD" stroke="#1a1a1a" stroke-width="0.6"/>
<path d="M263.94 364.53L269.69 372.35L263.94 380.17L258.19 372.35Z" fill="#0000FF" stroke="#1a1a1a" stroke-width="0.6"/>
</g>
<g clip-path="url(#cle)">
<circle cx="87.13" cy="851.83" r="5.75" fill="#EDB120" stroke="#1a1a1a" stroke-width="0.6"/>
<path d="M87.13 865.75V838.73M85.33 865.75h3.6M85.33 838.73h3.6" stroke="#000" stroke-opacity="0.52" stroke-width="1.0" fill="none"/>
<circle cx="87.13" cy="828.36" r="5.75" fill="none" stroke="#111" stroke-width="1.2"/>
<rect x="102.42" y="820.4" width="8.82" height="8.82" fill="#000000" stroke="#1a1a1a" stroke-width="0.7"/>
<rect x="102.09" y="836.72" width="9.49" height="9.49" fill="none" stroke="#111" stroke-width="1.2"/>
<path d="M131.77 808.99L120.77 802.39L120.77 815.59Z" fill="#D95319" stroke="#1a1a1a" stroke-width="0.6"/>
<path d="M132.87 832.18L120.87 824.98L120.87 839.38Z" fill="none" stroke="#111" stroke-width="1.2"/>
<path d="M139.13 813.08L140.87 816.07L144.33 816.08L142.61 819.08L144.33 822.08L140.87 822.1L139.13 825.08L137.39 822.1L133.94 822.08L135.65 819.08L133.94 816.08L137.39 816.07Z" fill="#77AC30" stroke="#1a1a1a" stroke-width="0.6"/>
<path d="M139.13 819.88L140.8 822.74L144.11 822.76L142.47 825.63L144.11 828.51L140.8 828.52L139.13 831.38L137.46 828.52L134.15 828.51L135.8 825.63L134.15 822.76L137.46 822.74Z" fill="#fff" stroke="#111" stroke-width="1.2"/>
<path d="M145.7 805.5L147.1 809.52L151.35 809.61L147.96 812.18L149.19 816.25L145.7 813.82L142.21 816.25L143.44 812.18L140.05 809.61L144.3 809.52Z" fill="#7E2F8E" stroke="#1a1a1a" stroke-width="0.6"/>
<path d="M145.7 820.45V802.44M143.9 820.45h3.6M143.9 802.44h3.6" stroke="#000" stroke-opacity="0.52" stroke-width="1.0" fill="none"/>
<path d="M145.7 830.5L147.12 834.59L151.45 834.68L148 837.3L149.26 841.44L145.7 838.97L142.14 841.44L143.4 837.3L139.95 834.68L144.28 834.59Z" fill="#fff" stroke="#111" stroke-width="1.2"/>
<path d="M181.01 810.72L186.76 818.54L181.01 826.36L175.26 818.54Z" fill="none" stroke="#111" stroke-width="1.2"/>
<path d="M214.4 825.58L221.3 837.08L207.5 837.08Z" fill="none" stroke="#111" stroke-width="1.2"/>
<path d="M214.4 716.7L221.3 728.2L207.5 728.2Z" fill="#0072BD" stroke="#1a1a1a" stroke-width="0.6"/>
</g>
<g clip-path="url(#clb)">
<circle cx="420.22" cy="280.05" r="5.6" fill="#F08C70" stroke="#222" stroke-width="0.6"/>
<circle cx="420.98" cy="277.78" r="5.6" fill="#30C8A0" stroke="#222" stroke-width="0.6"/>
<circle cx="420.98" cy="270.2" r="5.6" fill="#30B8E8" stroke="#222" stroke-width="0.6"/>
<circle cx="423.63" cy="271.33" r="5.6" fill="#F08070" stroke="#222" stroke-width="0.6"/>
<circle cx="430.08" cy="271.33" r="5.6" fill="#F0E020" stroke="#222" stroke-width="0.6"/>
<circle cx="427.43" cy="274.37" r="5.6" fill="#30C0B0" stroke="#222" stroke-width="0.6"/>
<circle cx="424.01" cy="264.89" r="5.6" fill="#082812" stroke="#222" stroke-width="0.6"/>
<circle cx="421.21" cy="275.5" r="5.6" fill="#B890D8" stroke="#222" stroke-width="0.6"/>
<circle cx="436.52" cy="267.54" r="5.6" fill="#F030D0" stroke="#222" stroke-width="0.6"/>
<circle cx="444.11" cy="262.61" r="5.6" fill="#F08078" stroke="#222" stroke-width="0.6"/>
<circle cx="433.87" cy="253.89" r="5.6" fill="#F030D0" stroke="#222" stroke-width="0.6"/>
<circle cx="433.49" cy="262.99" r="5.6" fill="#50C020" stroke="#222" stroke-width="0.6"/>
<circle cx="436.9" cy="262.61" r="5.6" fill="#90F090" stroke="#222" stroke-width="0.6"/>
<circle cx="430.46" cy="267.16" r="5.6" fill="#3030E0" stroke="#222" stroke-width="0.6"/>
<circle cx="445.25" cy="250.1" r="5.6" fill="#50C020" stroke="#222" stroke-width="0.6"/>
<circle cx="444.11" cy="252.75" r="5.6" fill="#000000" stroke="#222" stroke-width="0.6"/>
<circle cx="449.42" cy="258.82" r="5.6" fill="#8B1A2A" stroke="#222" stroke-width="0.6"/>
<circle cx="442.21" cy="256.17" r="5.6" fill="#5018E0" stroke="#222" stroke-width="0.6"/>
<circle cx="462.31" cy="238.35" r="5.6" fill="#1878C8" stroke="#222" stroke-width="0.6"/>
<circle cx="461.93" cy="229.25" r="5.6" fill="#9ACD32" stroke="#222" stroke-width="0.6"/>
<circle cx="461.93" cy="235.31" r="5.6" fill="#A0A020" stroke="#222" stroke-width="0.6"/>
<circle cx="466.48" cy="231.14" r="5.6" fill="#C85A2A" stroke="#222" stroke-width="0.6"/>
<circle cx="474.06" cy="229.62" r="5.6" fill="#10E8F0" stroke="#222" stroke-width="0.6"/>
<circle cx="470.08" cy="225.83" r="5.6" fill="#3C8C50" stroke="#222" stroke-width="0.6"/>
<circle cx="489.99" cy="208.39" r="5.6" fill="#6A1B7A" stroke="#222" stroke-width="0.6"/>
<circle cx="492.64" cy="197.78" r="5.6" fill="#CC88C0" stroke="#222" stroke-width="0.6"/>
<circle cx="419.31" cy="247.82" r="5.6" fill="#A68BC0" stroke="#222" stroke-width="0.6"/>
<circle cx="545.35" cy="154.93" r="5.6" fill="#A0E010" stroke="#222" stroke-width="0.6"/>
<circle cx="621.94" cy="195.5" r="5.6" fill="#E010E8" stroke="#222" stroke-width="0.6"/>
<path d="M420.22 283.09V277.02M418.42 283.09h3.6M418.42 277.02h3.6" stroke="#000" stroke-opacity="0.52" stroke-width="1.0" fill="none"/>
<path d="M420.98 280.81V274.75M419.18 280.81h3.6M419.18 274.75h3.6" stroke="#000" stroke-opacity="0.52" stroke-width="1.0" fill="none"/>
<path d="M420.98 273.23V267.16M419.18 273.23h3.6M419.18 267.16h3.6" stroke="#000" stroke-opacity="0.52" stroke-width="1.0" fill="none"/>
<path d="M423.63 274.37V268.3M421.83 274.37h3.6M421.83 268.3h3.6" stroke="#000" stroke-opacity="0.52" stroke-width="1.0" fill="none"/>
<path d="M430.08 274.37V268.3M428.28 274.37h3.6M428.28 268.3h3.6" stroke="#000" stroke-opacity="0.52" stroke-width="1.0" fill="none"/>
<path d="M427.43 277.4V271.33M425.62 277.4h3.6M425.62 271.33h3.6" stroke="#000" stroke-opacity="0.52" stroke-width="1.0" fill="none"/>
<path d="M424.01 267.92V256.93M422.21 267.92h3.6M422.21 256.93h3.6" stroke="#000" stroke-opacity="0.52" stroke-width="1.0" fill="none"/>
<path d="M421.21 278.54V272.47M419.41 278.54h3.6M419.41 272.47h3.6" stroke="#000" stroke-opacity="0.52" stroke-width="1.0" fill="none"/>
<path d="M436.52 270.57V264.51M434.72 270.57h3.6M434.72 264.51h3.6" stroke="#000" stroke-opacity="0.52" stroke-width="1.0" fill="none"/>
<path d="M444.11 265.65V259.58M442.31 265.65h3.6M442.31 259.58h3.6" stroke="#000" stroke-opacity="0.52" stroke-width="1.0" fill="none"/>
<path d="M433.87 256.93V250.86M432.07 256.93h3.6M432.07 250.86h3.6" stroke="#000" stroke-opacity="0.52" stroke-width="1.0" fill="none"/>
<path d="M433.49 266.02V259.96M431.69 266.02h3.6M431.69 259.96h3.6" stroke="#000" stroke-opacity="0.52" stroke-width="1.0" fill="none"/>
<path d="M436.9 265.65V259.58M435.1 265.65h3.6M435.1 259.58h3.6" stroke="#000" stroke-opacity="0.52" stroke-width="1.0" fill="none"/>
<path d="M430.46 270.2V264.13M428.66 270.2h3.6M428.66 264.13h3.6" stroke="#000" stroke-opacity="0.52" stroke-width="1.0" fill="none"/>
<path d="M445.25 253.13V247.07M443.45 253.13h3.6M443.45 247.07h3.6" stroke="#000" stroke-opacity="0.52" stroke-width="1.0" fill="none"/>
<path d="M444.11 255.79V249.72M442.31 255.79h3.6M442.31 249.72h3.6" stroke="#000" stroke-opacity="0.52" stroke-width="1.0" fill="none"/>
<path d="M449.42 261.85V255.79M447.62 261.85h3.6M447.62 255.79h3.6" stroke="#000" stroke-opacity="0.52" stroke-width="1.0" fill="none"/>
<path d="M442.21 259.2V253.13M440.41 259.2h3.6M440.41 253.13h3.6" stroke="#000" stroke-opacity="0.52" stroke-width="1.0" fill="none"/>
<path d="M462.31 261.1V201.57M460.51 261.1h3.6M460.51 201.57h3.6" stroke="#000" stroke-opacity="0.52" stroke-width="1.0" fill="none"/>
<path d="M461.93 232.28V226.21M460.13 232.28h3.6M460.13 226.21h3.6" stroke="#000" stroke-opacity="0.52" stroke-width="1.0" fill="none"/>
<path d="M461.93 238.35V232.28M460.13 238.35h3.6M460.13 232.28h3.6" stroke="#000" stroke-opacity="0.52" stroke-width="1.0" fill="none"/>
<path d="M466.48 234.18V228.11M464.68 234.18h3.6M464.68 228.11h3.6" stroke="#000" stroke-opacity="0.52" stroke-width="1.0" fill="none"/>
<path d="M474.06 232.66V226.59M472.26 232.66h3.6M472.26 226.59h3.6" stroke="#000" stroke-opacity="0.52" stroke-width="1.0" fill="none"/>
<path d="M470.08 228.87V222.8M468.28 228.87h3.6M468.28 222.8h3.6" stroke="#000" stroke-opacity="0.52" stroke-width="1.0" fill="none"/>
<path d="M489.99 211.43V205.36M488.19 211.43h3.6M488.19 205.36h3.6" stroke="#000" stroke-opacity="0.52" stroke-width="1.0" fill="none"/>
<path d="M492.64 210.67V183.75M490.84 210.67h3.6M490.84 183.75h3.6" stroke="#000" stroke-opacity="0.52" stroke-width="1.0" fill="none"/>
<path d="M419.31 261.48V213.7M417.51 261.48h3.6M417.51 213.7h3.6" stroke="#000" stroke-opacity="0.52" stroke-width="1.0" fill="none"/>
<path d="M545.35 162.51V147.72M543.55 162.51h3.6M543.55 147.72h3.6" stroke="#000" stroke-opacity="0.52" stroke-width="1.0" fill="none"/>
<path d="M621.94 255.03V135.59M620.14 255.03h3.6M620.14 135.59h3.6" stroke="#000" stroke-opacity="0.52" stroke-width="1.0" fill="none"/>
</g>
<g clip-path="url(#cld)">
<path d="M571.84 515.51V312.5M570.04 515.51h3.6" stroke="#000" stroke-opacity="0.3" stroke-width="2" fill="none"/>
<path d="M677.04 345.12V312.5M675.24 345.12h3.6" stroke="#000" stroke-opacity="0.52" stroke-width="1.0" fill="none"/>
<path d="M442.26 554.12V451.62M440.46 554.12h3.6M440.46 451.62h3.6" stroke="#000" stroke-opacity="0.3" stroke-width="1.8" fill="none"/>
<path d="M436 554.12V503.53M434.2 554.12h3.6M434.2 503.53h3.6" stroke="#000" stroke-opacity="0.3" stroke-width="1.8" fill="none"/>
<path d="M424.82 567.43V515.51M423.02 567.43h3.6M423.02 515.51h3.6" stroke="#000" stroke-opacity="0.35" stroke-width="1.5" fill="none"/>
<path d="M427.08 567.43V528.83M425.28 567.43h3.6M425.28 528.83h3.6" stroke="#000" stroke-opacity="0.25" stroke-width="1.5" fill="none"/>
<path d="M485.54 527.5V497.28M483.74 527.5h3.6M483.74 497.28h3.6" stroke="#000" stroke-opacity="0.52" stroke-width="1.0" fill="none"/>
<rect x="553.19" y="466.78" width="9.6" height="9.6" fill="none" stroke="#111" stroke-width="1.25"/>
<rect x="556.38" y="566.63" width="9.6" height="9.6" fill="none" stroke="#111" stroke-width="1.25"/>
<rect x="558.78" y="569.02" width="9.6" height="9.6" fill="none" stroke="#111" stroke-width="1.25"/>
<rect x="573.83" y="572.88" width="9.6" height="9.6" fill="none" stroke="#111" stroke-width="1.25"/>
<rect x="586.48" y="566.63" width="9.6" height="9.6" fill="none" stroke="#111" stroke-width="1.25"/>
<rect x="478.21" y="564.63" width="9.6" height="9.6" fill="none" stroke="#111" stroke-width="1.25"/>
<rect x="500.98" y="563.16" width="9.6" height="9.6" fill="none" stroke="#111" stroke-width="1.25"/>
<rect x="460.77" y="558.5" width="9.6" height="9.6" fill="none" stroke="#111" stroke-width="1.25"/>
<rect x="464.9" y="562.63" width="9.6" height="9.6" fill="none" stroke="#111" stroke-width="1.25"/>
<rect x="466.89" y="571.82" width="9.6" height="9.6" fill="none" stroke="#111" stroke-width="1.25"/>
<rect x="458.64" y="574.88" width="9.6" height="9.6" fill="none" stroke="#111" stroke-width="1.25"/>
<rect x="451.58" y="566.63" width="9.6" height="9.6" fill="none" stroke="#111" stroke-width="1.25"/>
<rect x="441.32" y="568.62" width="9.6" height="9.6" fill="none" stroke="#111" stroke-width="1.25"/>
<rect x="454.64" y="571.28" width="9.6" height="9.6" fill="none" stroke="#111" stroke-width="1.25"/>
<rect x="446.65" y="573.28" width="9.6" height="9.6" fill="none" stroke="#111" stroke-width="1.25"/>
<rect x="427.61" y="544.53" width="9.6" height="9.6" fill="none" stroke="#111" stroke-width="1.25"/>
<rect x="424.94" y="543.2" width="9.6" height="9.6" fill="none" stroke="#111" stroke-width="1.25"/>
<rect x="457.3" y="559.97" width="9.6" height="9.6" fill="none" stroke="#111" stroke-width="1.25"/>
<rect x="430.93" y="572.85" width="9.6" height="9.6" fill="none" stroke="#111" stroke-width="1.25"/>
<rect x="436.9" y="571.12" width="9.6" height="9.6" fill="none" stroke="#111" stroke-width="1.25"/>
<rect x="434.98" y="571.29" width="9.6" height="9.6" fill="none" stroke="#111" stroke-width="1.25"/>
<rect x="410.37" y="575.24" width="9.6" height="9.6" fill="none" stroke="#111" stroke-width="1.25"/>
<rect x="442.03" y="573.66" width="9.6" height="9.6" fill="none" stroke="#111" stroke-width="1.25"/>
<rect x="440.56" y="578.29" width="9.6" height="9.6" fill="none" stroke="#111" stroke-width="1.25"/>
<rect x="425.6" y="577.14" width="9.6" height="9.6" fill="none" stroke="#111" stroke-width="1.25"/>
<rect x="428.19" y="574.31" width="9.6" height="9.6" fill="none" stroke="#111" stroke-width="1.25"/>
<rect x="409.82" y="577.4" width="9.6" height="9.6" fill="none" stroke="#111" stroke-width="1.25"/>
<rect x="419.04" y="571.34" width="9.6" height="9.6" fill="none" stroke="#111" stroke-width="1.25"/>
<rect x="435.88" y="577.89" width="9.6" height="9.6" fill="none" stroke="#111" stroke-width="1.25"/>
<rect x="436.96" y="578.07" width="9.6" height="9.6" fill="none" stroke="#111" stroke-width="1.25"/>
<rect x="430.74" y="578.18" width="9.6" height="9.6" fill="none" stroke="#111" stroke-width="1.25"/>
<rect x="409.42" y="571.73" width="9.6" height="9.6" fill="none" stroke="#111" stroke-width="1.25"/>
<rect x="416.62" y="577.41" width="9.6" height="9.6" fill="none" stroke="#111" stroke-width="1.25"/>
<rect x="443.38" y="571.72" width="9.6" height="9.6" fill="none" stroke="#111" stroke-width="1.25"/>
<rect x="419.38" y="570.95" width="9.6" height="9.6" fill="none" stroke="#111" stroke-width="1.25"/>
<rect x="428.03" y="573.41" width="9.6" height="9.6" fill="none" stroke="#111" stroke-width="1.25"/>
<rect x="416.45" y="571.13" width="9.6" height="9.6" fill="none" stroke="#111" stroke-width="1.25"/>
<rect x="433.28" y="570.91" width="9.6" height="9.6" fill="none" stroke="#111" stroke-width="1.25"/>
<rect x="440.31" y="576.69" width="9.6" height="9.6" fill="none" stroke="#111" stroke-width="1.25"/>
<rect x="421.87" y="577.84" width="9.6" height="9.6" fill="none" stroke="#111" stroke-width="1.25"/>
<rect x="414.41" y="578.71" width="9.6" height="9.6" fill="none" stroke="#111" stroke-width="1.25"/>
<rect x="419.8" y="574.05" width="9.6" height="9.6" fill="none" stroke="#111" stroke-width="1.25"/>
<rect x="409.48" y="573.41" width="9.6" height="9.6" fill="none" stroke="#111" stroke-width="1.25"/>
<rect x="421.06" y="576.59" width="9.6" height="9.6" fill="none" stroke="#111" stroke-width="1.25"/>
<circle cx="420.96" cy="581.68" r="5.6" fill="#F08040" stroke="#222" stroke-width="0.6"/>
<circle cx="432.27" cy="571.16" r="5.6" fill="#50F040" stroke="#222" stroke-width="0.6"/>
<circle cx="421.62" cy="575.29" r="5.6" fill="#E07040" stroke="#222" stroke-width="0.6"/>
<circle cx="414.83" cy="568.1" r="5.6" fill="#7050C0" stroke="#222" stroke-width="0.6"/>
<circle cx="424.82" cy="568.76" r="5.6" fill="#40A0E0" stroke="#222" stroke-width="0.6"/>
<circle cx="416.83" cy="575.42" r="5.6" fill="#E050A0" stroke="#222" stroke-width="0.6"/>
<circle cx="424.02" cy="552.12" r="5.6" fill="#20B080" stroke="#222" stroke-width="0.6"/>
<circle cx="416.83" cy="556.25" r="5.6" fill="#D0F060" stroke="#222" stroke-width="0.6"/>
<circle cx="423.49" cy="557.31" r="5.6" fill="#40B0E0" stroke="#222" stroke-width="0.6"/>
<circle cx="432.27" cy="556.78" r="5.6" fill="#C8E8D0" stroke="#222" stroke-width="0.6"/>
<circle cx="434.14" cy="558.78" r="5.6" fill="#7070F0" stroke="#222" stroke-width="0.6"/>
<circle cx="415.76" cy="560.91" r="5.6" fill="#E050A0" stroke="#222" stroke-width="0.6"/>
<circle cx="419.49" cy="564.37" r="5.6" fill="#F078B8" stroke="#222" stroke-width="0.6"/>
<circle cx="429.61" cy="563.84" r="5.6" fill="#F098C0" stroke="#222" stroke-width="0.6"/>
<circle cx="433.21" cy="551.72" r="5.6" fill="#D0E030" stroke="#222" stroke-width="0.6"/>
<circle cx="440.93" cy="555.18" r="5.6" fill="#50F0F8" stroke="#222" stroke-width="0.6"/>
<circle cx="440.93" cy="563.44" r="5.6" fill="#40C8A0" stroke="#222" stroke-width="0.6"/>
<circle cx="440.93" cy="529.09" r="5.6" fill="#D8A080" stroke="#222" stroke-width="0.6"/>
<circle cx="436.27" cy="536.81" r="5.6" fill="#0A2A14" stroke="#222" stroke-width="0.6"/>
<circle cx="437.34" cy="542.94" r="5.6" fill="#1A2AE0" stroke="#222" stroke-width="0.6"/>
<circle cx="446.12" cy="546.53" r="5.6" fill="#30A030" stroke="#222" stroke-width="0.6"/>
<circle cx="455.45" cy="535.48" r="5.6" fill="#D8C080" stroke="#222" stroke-width="0.6"/>
<circle cx="456.64" cy="555.18" r="5.6" fill="#0000F0" stroke="#222" stroke-width="0.6"/>
<circle cx="464.77" cy="540.27" r="5.6" fill="#F0B020" stroke="#222" stroke-width="0.6"/>
<circle cx="467.7" cy="527.23" r="5.6" fill="#4A8A10" stroke="#222" stroke-width="0.6"/>
<circle cx="474.22" cy="536.41" r="5.6" fill="#E030E0" stroke="#222" stroke-width="0.6"/>
<circle cx="477.15" cy="524.97" r="5.6" fill="#90F080" stroke="#222" stroke-width="0.6"/>
<circle cx="469.43" cy="516.18" r="5.6" fill="#207090" stroke="#222" stroke-width="0.6"/>
<circle cx="482.75" cy="516.18" r="5.6" fill="#7A30A0" stroke="#222" stroke-width="0.6"/>
<circle cx="471.69" cy="507.39" r="5.6" fill="#40A890" stroke="#222" stroke-width="0.6"/>
<circle cx="474.62" cy="495.68" r="5.6" fill="#F030D8" stroke="#222" stroke-width="0.6"/>
<circle cx="485.41" cy="506.2" r="5.6" fill="#6A90E8" stroke="#222" stroke-width="0.6"/>
<circle cx="497.13" cy="510.32" r="5.6" fill="#E07078" stroke="#222" stroke-width="0.6"/>
<circle cx="494.47" cy="502.73" r="5.6" fill="#70C050" stroke="#222" stroke-width="0.6"/>
<circle cx="499.26" cy="499.81" r="5.6" fill="#4A20D8" stroke="#222" stroke-width="0.6"/>
<circle cx="506.18" cy="493.95" r="5.6" fill="#8A4A8A" stroke="#222" stroke-width="0.6"/>
<circle cx="508.58" cy="482.37" r="5.6" fill="#60B830" stroke="#222" stroke-width="0.6"/>
<circle cx="519.63" cy="501" r="5.6" fill="#8A1A2A" stroke="#222" stroke-width="0.6"/>
<circle cx="465.97" cy="464.13" r="5.6" fill="#F07080" stroke="#222" stroke-width="0.6"/>
<circle cx="419.62" cy="470.79" r="5.6" fill="#9F7FC0" stroke="#222" stroke-width="0.6"/>
<circle cx="462.1" cy="376.14" r="5.6" fill="#50D030" stroke="#222" stroke-width="0.6"/>
<circle cx="557.99" cy="448.15" r="5.6" fill="#D8F070" stroke="#222" stroke-width="0.6"/>
<circle cx="569.97" cy="436.97" r="5.6" fill="#1870C0" stroke="#222" stroke-width="0.6"/>
<circle cx="571.3" cy="424.99" r="5.6" fill="#8A9A10" stroke="#222" stroke-width="0.6"/>
<circle cx="571.3" cy="412.21" r="5.6" fill="#70B030" stroke="#222" stroke-width="0.6"/>
<circle cx="579.3" cy="410.35" r="5.6" fill="#78B838" stroke="#222" stroke-width="0.6"/>
<circle cx="586.62" cy="410.35" r="5.6" fill="#C05020" stroke="#222" stroke-width="0.6"/>
<circle cx="597.94" cy="393.04" r="5.6" fill="#3A8A50" stroke="#222" stroke-width="0.6"/>
<circle cx="607.26" cy="406.35" r="5.6" fill="#10E0F0" stroke="#222" stroke-width="0.6"/>
<circle cx="561.32" cy="385.05" r="5.6" fill="#3A0A28" stroke="#222" stroke-width="0.6"/>
<circle cx="563.58" cy="494.61" r="5.6" fill="#1A5A3A" stroke="#222" stroke-width="0.6"/>
<circle cx="578.63" cy="500.87" r="5.6" fill="#F04A20" stroke="#222" stroke-width="0.6"/>
<circle cx="667.99" cy="331.81" r="5.6" fill="#6A1B7A" stroke="#222" stroke-width="0.6"/>
<path d="M414.83 573.42V562.77M413.03 573.42h3.6M413.03 562.77h3.6" stroke="#000" stroke-opacity="0.52" stroke-width="1.0" fill="none"/>
<path d="M424.82 574.09V563.44M423.02 574.09h3.6M423.02 563.44h3.6" stroke="#000" stroke-opacity="0.52" stroke-width="1.0" fill="none"/>
<path d="M416.83 580.74V570.09M415.03 580.74h3.6M415.03 570.09h3.6" stroke="#000" stroke-opacity="0.52" stroke-width="1.0" fill="none"/>
<path d="M424.02 557.45V546.8M422.22 557.45h3.6M422.22 546.8h3.6" stroke="#000" stroke-opacity="0.52" stroke-width="1.0" fill="none"/>
<path d="M416.83 561.57V550.92M415.03 561.57h3.6M415.03 550.92h3.6" stroke="#000" stroke-opacity="0.52" stroke-width="1.0" fill="none"/>
<path d="M423.49 562.64V551.99M421.69 562.64h3.6M421.69 551.99h3.6" stroke="#000" stroke-opacity="0.52" stroke-width="1.0" fill="none"/>
<path d="M432.27 562.11V551.46M430.47 562.11h3.6M430.47 551.46h3.6" stroke="#000" stroke-opacity="0.52" stroke-width="1.0" fill="none"/>
<path d="M434.14 564.1V553.45M432.34 564.1h3.6M432.34 553.45h3.6" stroke="#000" stroke-opacity="0.52" stroke-width="1.0" fill="none"/>
<path d="M415.76 566.23V555.58M413.96 566.23h3.6M413.96 555.58h3.6" stroke="#000" stroke-opacity="0.52" stroke-width="1.0" fill="none"/>
<path d="M419.49 569.69V559.05M417.69 569.69h3.6M417.69 559.05h3.6" stroke="#000" stroke-opacity="0.52" stroke-width="1.0" fill="none"/>
<path d="M429.61 569.16V558.51M427.81 569.16h3.6M427.81 558.51h3.6" stroke="#000" stroke-opacity="0.52" stroke-width="1.0" fill="none"/>
<path d="M433.21 557.05V546.4M431.41 557.05h3.6M431.41 546.4h3.6" stroke="#000" stroke-opacity="0.52" stroke-width="1.0" fill="none"/>
<path d="M440.93 560.51V549.86M439.13 560.51h3.6M439.13 549.86h3.6" stroke="#000" stroke-opacity="0.52" stroke-width="1.0" fill="none"/>
<path d="M440.93 568.76V558.11M439.13 568.76h3.6M439.13 558.11h3.6" stroke="#000" stroke-opacity="0.52" stroke-width="1.0" fill="none"/>
<path d="M440.93 534.42V451.62M439.13 534.42h3.6M439.13 451.62h3.6" stroke="#000" stroke-opacity="0.52" stroke-width="1.0" fill="none"/>
<path d="M436.27 542.14V531.49M434.47 542.14h3.6M434.47 531.49h3.6" stroke="#000" stroke-opacity="0.52" stroke-width="1.0" fill="none"/>
<path d="M437.34 548.26V537.61M435.54 548.26h3.6M435.54 537.61h3.6" stroke="#000" stroke-opacity="0.52" stroke-width="1.0" fill="none"/>
<path d="M446.12 551.86V541.21M444.32 551.86h3.6M444.32 541.21h3.6" stroke="#000" stroke-opacity="0.52" stroke-width="1.0" fill="none"/>
<path d="M455.45 540.81V527.5M453.65 540.81h3.6M453.65 527.5h3.6" stroke="#000" stroke-opacity="0.52" stroke-width="1.0" fill="none"/>
<path d="M456.64 560.51V549.86M454.84 560.51h3.6M454.84 549.86h3.6" stroke="#000" stroke-opacity="0.52" stroke-width="1.0" fill="none"/>
<path d="M464.77 545.6V534.95M462.97 545.6h3.6M462.97 534.95h3.6" stroke="#000" stroke-opacity="0.52" stroke-width="1.0" fill="none"/>
<path d="M467.7 532.55V521.9M465.9 532.55h3.6M465.9 521.9h3.6" stroke="#000" stroke-opacity="0.52" stroke-width="1.0" fill="none"/>
<path d="M474.22 555.05V531.09M472.42 555.05h3.6M472.42 531.09h3.6" stroke="#000" stroke-opacity="0.52" stroke-width="1.0" fill="none"/>
<path d="M477.15 530.29V519.64M475.35 530.29h3.6M475.35 519.64h3.6" stroke="#000" stroke-opacity="0.52" stroke-width="1.0" fill="none"/>
<path d="M469.43 521.5V510.85M467.63 521.5h3.6M467.63 510.85h3.6" stroke="#000" stroke-opacity="0.52" stroke-width="1.0" fill="none"/>
<path d="M482.75 521.5V510.85M480.95 521.5h3.6M480.95 510.85h3.6" stroke="#000" stroke-opacity="0.52" stroke-width="1.0" fill="none"/>
<path d="M471.69 512.72V502.07M469.89 512.72h3.6M469.89 502.07h3.6" stroke="#000" stroke-opacity="0.52" stroke-width="1.0" fill="none"/>
<path d="M474.62 501V473.45M472.82 501h3.6M472.82 473.45h3.6" stroke="#000" stroke-opacity="0.52" stroke-width="1.0" fill="none"/>
<path d="M485.41 511.52V497.41M483.61 511.52h3.6M483.61 497.41h3.6" stroke="#000" stroke-opacity="0.52" stroke-width="1.0" fill="none"/>
<path d="M497.13 527.5V505M495.33 527.5h3.6M495.33 505h3.6" stroke="#000" stroke-opacity="0.52" stroke-width="1.0" fill="none"/>
<path d="M494.47 525.1V480.5M492.67 525.1h3.6M492.67 480.5h3.6" stroke="#000" stroke-opacity="0.52" stroke-width="1.0" fill="none"/>
<path d="M499.26 505.13V494.48M497.46 505.13h3.6M497.46 494.48h3.6" stroke="#000" stroke-opacity="0.52" stroke-width="1.0" fill="none"/>
<path d="M506.18 499.27V488.62M504.38 499.27h3.6M504.38 488.62h3.6" stroke="#000" stroke-opacity="0.52" stroke-width="1.0" fill="none"/>
<path d="M508.58 487.69V470.25M506.78 487.69h3.6M506.78 470.25h3.6" stroke="#000" stroke-opacity="0.52" stroke-width="1.0" fill="none"/>
<path d="M519.63 510.99V490.75M517.83 510.99h3.6M517.83 490.75h3.6" stroke="#000" stroke-opacity="0.52" stroke-width="1.0" fill="none"/>
<path d="M465.97 494.21V431.11M464.17 494.21h3.6M464.17 431.11h3.6" stroke="#000" stroke-opacity="0.52" stroke-width="1.0" fill="none"/>
<path d="M419.62 589.4V351.77M417.82 351.77h3.6" stroke="#000" stroke-opacity="0.52" stroke-width="1.0" fill="none"/>
<path d="M462.1 430.98V321.16M460.3 430.98h3.6M460.3 321.16h3.6" stroke="#000" stroke-opacity="0.52" stroke-width="1.0" fill="none"/>
<path d="M557.99 460.93V434.31M556.19 460.93h3.6M556.19 434.31h3.6" stroke="#000" stroke-opacity="0.52" stroke-width="1.0" fill="none"/>
<path d="M569.97 451.62V431.65M568.17 451.62h3.6M568.17 431.65h3.6" stroke="#000" stroke-opacity="0.52" stroke-width="1.0" fill="none"/>
<path d="M571.3 430.32V419.67M569.5 430.32h3.6M569.5 419.67h3.6" stroke="#000" stroke-opacity="0.52" stroke-width="1.0" fill="none"/>
<path d="M571.3 417.54V406.89M569.5 417.54h3.6M569.5 406.89h3.6" stroke="#000" stroke-opacity="0.52" stroke-width="1.0" fill="none"/>
<path d="M579.3 431.65V387.72M577.5 431.65h3.6M577.5 387.72h3.6" stroke="#000" stroke-opacity="0.52" stroke-width="1.0" fill="none"/>
<path d="M586.62 421V398.37M584.82 421h3.6M584.82 398.37h3.6" stroke="#000" stroke-opacity="0.52" stroke-width="1.0" fill="none"/>
<path d="M597.94 403.69V382.39M596.14 403.69h3.6M596.14 382.39h3.6" stroke="#000" stroke-opacity="0.52" stroke-width="1.0" fill="none"/>
<path d="M607.26 419.67V391.71M605.46 419.67h3.6M605.46 391.71h3.6" stroke="#000" stroke-opacity="0.52" stroke-width="1.0" fill="none"/>
<path d="M561.32 403.69V365.09M559.52 403.69h3.6M559.52 365.09h3.6" stroke="#000" stroke-opacity="0.52" stroke-width="1.0" fill="none"/>
<path d="M563.58 522.17V467.59M561.78 522.17h3.6M561.78 467.59h3.6" stroke="#000" stroke-opacity="0.52" stroke-width="1.0" fill="none"/>
<path d="M578.63 527.5V474.51M576.83 527.5h3.6M576.83 474.51h3.6" stroke="#000" stroke-opacity="0.52" stroke-width="1.0" fill="none"/>
<path d="M667.99 341.52V322.49M666.19 341.52h3.6M666.19 322.49h3.6" stroke="#000" stroke-opacity="0.52" stroke-width="1.0" fill="none"/>
<rect x="430.93" y="574.18" width="9.6" height="9.6" fill="none" stroke="#111" stroke-width="1.25"/>
<rect x="436.9" y="572.45" width="9.6" height="9.6" fill="none" stroke="#111" stroke-width="1.25"/>
<rect x="434.98" y="572.62" width="9.6" height="9.6" fill="none" stroke="#111" stroke-width="1.25"/>
<rect x="410.37" y="576.57" width="9.6" height="9.6" fill="none" stroke="#111" stroke-width="1.25"/>
<rect x="442.03" y="574.99" width="9.6" height="9.6" fill="none" stroke="#111" stroke-width="1.25"/>
<rect x="440.56" y="579.62" width="9.6" height="9.6" fill="none" stroke="#111" stroke-width="1.25"/>
<rect x="462.63" y="496.74" width="9.6" height="9.6" fill="none" stroke="#111" stroke-width="1.25"/>
</g>
<g clip-path="url(#clf)">
<path d="M432.58 838.92L438.48 846.52L432.58 854.12L426.68 846.52Z" fill="none" stroke="#111" stroke-width="1.3"/>
<path d="M440.2 870.16L446.1 877.76L440.2 885.36L434.3 877.76Z" fill="none" stroke="#111" stroke-width="1.3"/>
<path d="M450.41 871.49L456.31 879.09L450.41 886.69L444.51 879.09Z" fill="none" stroke="#111" stroke-width="1.3"/>
<path d="M441.4 869.77L447.3 877.37L441.4 884.97L435.5 877.37Z" fill="none" stroke="#111" stroke-width="1.3"/>
<path d="M434.41 870.84L440.31 878.44L434.41 886.04L428.51 878.44Z" fill="none" stroke="#111" stroke-width="1.3"/>
<path d="M444.04 866.85L449.94 874.45L444.04 882.05L438.14 874.45Z" fill="none" stroke="#111" stroke-width="1.3"/>
<path d="M432.46 873.79L438.36 881.39L432.46 888.99L426.56 881.39Z" fill="none" stroke="#111" stroke-width="1.3"/>
<path d="M432.38 866.61L438.28 874.21L432.38 881.81L426.48 874.21Z" fill="none" stroke="#111" stroke-width="1.3"/>
<path d="M445.42 877.5L451.32 885.1L445.42 892.7L439.52 885.1Z" fill="none" stroke="#111" stroke-width="1.3"/>
<path d="M451.66 864.41L457.56 872.01L451.66 879.61L445.76 872.01Z" fill="none" stroke="#111" stroke-width="1.3"/>
<path d="M444.56 869.37L450.46 876.97L444.56 884.57L438.66 876.97Z" fill="none" stroke="#111" stroke-width="1.3"/>
<path d="M433.83 877.89L439.73 885.49L433.83 893.09L427.93 885.49Z" fill="none" stroke="#111" stroke-width="1.3"/>
<path d="M441.85 877.25L447.75 884.85L441.85 892.45L435.95 884.85Z" fill="none" stroke="#111" stroke-width="1.3"/>
<path d="M434.53 874.67L440.43 882.27L434.53 889.87L428.63 882.27Z" fill="none" stroke="#111" stroke-width="1.3"/>
<path d="M431.07 871.52L436.97 879.12L431.07 886.72L425.17 879.12Z" fill="none" stroke="#111" stroke-width="1.3"/>
<path d="M439.95 866.15L445.85 873.75L439.95 881.35L434.05 873.75Z" fill="none" stroke="#111" stroke-width="1.3"/>
<path d="M441.65 869.02L447.55 876.62L441.65 884.22L435.75 876.62Z" fill="none" stroke="#111" stroke-width="1.3"/>
<path d="M441.23 868.7L447.13 876.3L441.23 883.9L435.33 876.3Z" fill="none" stroke="#111" stroke-width="1.3"/>
<path d="M440.31 874.15L446.21 881.75L440.31 889.35L434.41 881.75Z" fill="none" stroke="#111" stroke-width="1.3"/>
<path d="M451.99 863.97L457.89 871.57L451.99 879.17L446.09 871.57Z" fill="none" stroke="#111" stroke-width="1.3"/>
<path d="M448.59 868.06L454.49 875.66L448.59 883.26L442.69 875.66Z" fill="none" stroke="#111" stroke-width="1.3"/>
<path d="M437.24 874.84L443.14 882.44L437.24 890.04L431.34 882.44Z" fill="none" stroke="#111" stroke-width="1.3"/>
<path d="M436.67 877.1L442.57 884.7L436.67 892.3L430.77 884.7Z" fill="none" stroke="#111" stroke-width="1.3"/>
<path d="M446.99 872.42L452.89 880.02L446.99 887.62L441.09 880.02Z" fill="none" stroke="#111" stroke-width="1.3"/>
<path d="M448.73 872.62L454.63 880.22L448.73 887.82L442.83 880.22Z" fill="none" stroke="#111" stroke-width="1.3"/>
<path d="M451.14 866.08L457.04 873.68L451.14 881.28L445.24 873.68Z" fill="none" stroke="#111" stroke-width="1.3"/>
<path d="M430.43 875.12L436.33 882.72L430.43 890.32L424.53 882.72Z" fill="none" stroke="#111" stroke-width="1.3"/>
<path d="M450.1 871.43L456 879.03L450.1 886.63L444.2 879.03Z" fill="none" stroke="#111" stroke-width="1.3"/>
<path d="M451.62 872.46L457.52 880.06L451.62 887.66L445.72 880.06Z" fill="none" stroke="#111" stroke-width="1.3"/>
<path d="M432 869.17L437.9 876.77L432 884.37L426.1 876.77Z" fill="none" stroke="#111" stroke-width="1.3"/>
<path d="M447.26 874.27L453.16 881.87L447.26 889.47L441.36 881.87Z" fill="none" stroke="#111" stroke-width="1.3"/>
<path d="M416.85 874.5L422.75 882.1L416.85 889.7L410.95 882.1Z" fill="none" stroke="#111" stroke-width="1.3"/>
<path d="M429.89 869.91L435.79 877.51L429.89 885.11L423.99 877.51Z" fill="none" stroke="#111" stroke-width="1.3"/>
<path d="M417.31 875.44L423.21 883.04L417.31 890.64L411.41 883.04Z" fill="none" stroke="#111" stroke-width="1.3"/>
<path d="M417.06 877.45L422.96 885.05L417.06 892.65L411.16 885.05Z" fill="none" stroke="#111" stroke-width="1.3"/>
<path d="M427.4 876.18L433.3 883.78L427.4 891.38L421.5 883.78Z" fill="none" stroke="#111" stroke-width="1.3"/>
<path d="M423.87 873.26L429.77 880.86L423.87 888.46L417.97 880.86Z" fill="none" stroke="#111" stroke-width="1.3"/>
<path d="M418.39 870.19L424.29 877.79L418.39 885.39L412.49 877.79Z" fill="none" stroke="#111" stroke-width="1.3"/>
<path d="M417.5 871.14L423.4 878.74L417.5 886.34L411.6 878.74Z" fill="none" stroke="#111" stroke-width="1.3"/>
<circle cx="416.91" cy="878.94" r="5.6" fill="#E07090" stroke="#222" stroke-width="0.6"/>
<circle cx="422.04" cy="875.57" r="5.6" fill="#7080E0" stroke="#222" stroke-width="0.6"/>
<circle cx="419.34" cy="865.3" r="5.6" fill="#20E020" stroke="#222" stroke-width="0.6"/>
<circle cx="431.5" cy="869.62" r="5.6" fill="#E8E040" stroke="#222" stroke-width="0.6"/>
<circle cx="430.69" cy="864.22" r="5.6" fill="#E05030" stroke="#222" stroke-width="0.6"/>
<circle cx="441.23" cy="863.81" r="5.6" fill="#38B090" stroke="#222" stroke-width="0.6"/>
<circle cx="441.23" cy="855.84" r="5.6" fill="#E06050" stroke="#222" stroke-width="0.6"/>
<circle cx="432.85" cy="856.92" r="5.6" fill="#5020C0" stroke="#222" stroke-width="0.6"/>
<circle cx="433.26" cy="853.27" r="5.6" fill="#8030A0" stroke="#222" stroke-width="0.6"/>
<circle cx="448.26" cy="838.95" r="5.6" fill="#C020C0" stroke="#222" stroke-width="0.6"/>
<circle cx="447.18" cy="848.55" r="5.6" fill="#30C8A8" stroke="#222" stroke-width="0.6"/>
<circle cx="439.48" cy="845.57" r="5.6" fill="#B898B0" stroke="#222" stroke-width="0.6"/>
<circle cx="442.45" cy="835.04" r="5.6" fill="#40C890" stroke="#222" stroke-width="0.6"/>
<circle cx="442.45" cy="829.09" r="5.6" fill="#F05A20" stroke="#222" stroke-width="0.6"/>
<circle cx="475.43" cy="846.11" r="5.6" fill="#0000F0" stroke="#222" stroke-width="0.6"/>
<circle cx="470.83" cy="839.63" r="5.6" fill="#F0B020" stroke="#222" stroke-width="0.6"/>
<circle cx="471.64" cy="824.23" r="5.6" fill="#70F070" stroke="#222" stroke-width="0.6"/>
<circle cx="471.64" cy="812.34" r="5.6" fill="#A07878" stroke="#222" stroke-width="0.6"/>
<circle cx="470.42" cy="815.85" r="5.6" fill="#D060F0" stroke="#222" stroke-width="0.6"/>
<circle cx="485.7" cy="814.1" r="5.6" fill="#702090" stroke="#222" stroke-width="0.6"/>
<circle cx="484.75" cy="800.72" r="5.6" fill="#40C0C8" stroke="#222" stroke-width="0.6"/>
<circle cx="507.46" cy="793.83" r="5.6" fill="#30E890" stroke="#222" stroke-width="0.6"/>
<circle cx="462.86" cy="674.4" r="5.6" fill="#D0105A" stroke="#222" stroke-width="0.6"/>
<circle cx="484.75" cy="708.58" r="5.6" fill="#90D0D0" stroke="#222" stroke-width="0.6"/>
<circle cx="565.84" cy="794.91" r="5.6" fill="#2878C0" stroke="#222" stroke-width="0.6"/>
<circle cx="580.98" cy="800.99" r="5.6" fill="#20E850" stroke="#222" stroke-width="0.6"/>
<circle cx="581.65" cy="707.77" r="5.6" fill="#68A020" stroke="#222" stroke-width="0.6"/>
<circle cx="595.84" cy="713.31" r="5.6" fill="#E0C0D8" stroke="#222" stroke-width="0.6"/>
<circle cx="593" cy="643.87" r="5.6" fill="#2A0A28" stroke="#222" stroke-width="0.6"/>
<path d="M416.91 883V874.89M415.11 883h3.6M415.11 874.89h3.6" stroke="#000" stroke-opacity="0.52" stroke-width="1.0" fill="none"/>
<path d="M422.04 879.62V871.51M420.24 879.62h3.6M420.24 871.51h3.6" stroke="#000" stroke-opacity="0.52" stroke-width="1.0" fill="none"/>
<path d="M419.34 873.54V849.22M417.54 873.54h3.6M417.54 849.22h3.6" stroke="#000" stroke-opacity="0.52" stroke-width="1.0" fill="none"/>
<path d="M431.5 873.67V865.57M429.7 873.67h3.6M429.7 865.57h3.6" stroke="#000" stroke-opacity="0.52" stroke-width="1.0" fill="none"/>
<path d="M430.69 868.14V860.03M428.89 868.14h3.6M428.89 860.03h3.6" stroke="#000" stroke-opacity="0.52" stroke-width="1.0" fill="none"/>
<path d="M441.23 867.86V859.76M439.43 867.86h3.6M439.43 859.76h3.6" stroke="#000" stroke-opacity="0.52" stroke-width="1.0" fill="none"/>
<path d="M441.23 859.89V851.79M439.43 859.89h3.6M439.43 851.79h3.6" stroke="#000" stroke-opacity="0.52" stroke-width="1.0" fill="none"/>
<path d="M432.85 860.97V852.87M431.05 860.97h3.6M431.05 852.87h3.6" stroke="#000" stroke-opacity="0.52" stroke-width="1.0" fill="none"/>
<path d="M433.26 857.33V849.22M431.46 857.33h3.6M431.46 849.22h3.6" stroke="#000" stroke-opacity="0.52" stroke-width="1.0" fill="none"/>
<path d="M448.26 843.01V834.9M446.46 843.01h3.6M446.46 834.9h3.6" stroke="#000" stroke-opacity="0.52" stroke-width="1.0" fill="none"/>
<path d="M447.18 852.6V844.49M445.38 852.6h3.6M445.38 844.49h3.6" stroke="#000" stroke-opacity="0.52" stroke-width="1.0" fill="none"/>
<path d="M439.48 849.63V841.52M437.68 849.63h3.6M437.68 841.52h3.6" stroke="#000" stroke-opacity="0.52" stroke-width="1.0" fill="none"/>
<path d="M442.45 839.09V830.98M440.65 839.09h3.6M440.65 830.98h3.6" stroke="#000" stroke-opacity="0.52" stroke-width="1.0" fill="none"/>
<path d="M442.45 833.14V751M440.65 833.14h3.6M440.65 751h3.6" stroke="#000" stroke-opacity="0.52" stroke-width="1.0" fill="none"/>
<path d="M470.83 843.68V835.58M469.03 843.68h3.6M469.03 835.58h3.6" stroke="#000" stroke-opacity="0.52" stroke-width="1.0" fill="none"/>
<path d="M471.64 828.28V820.17M469.84 828.28h3.6M469.84 820.17h3.6" stroke="#000" stroke-opacity="0.52" stroke-width="1.0" fill="none"/>
<path d="M471.64 816.39V797.88M469.84 816.39h3.6M469.84 797.88h3.6" stroke="#000" stroke-opacity="0.52" stroke-width="1.0" fill="none"/>
<path d="M470.42 819.9V811.8M468.62 819.9h3.6M468.62 811.8h3.6" stroke="#000" stroke-opacity="0.52" stroke-width="1.0" fill="none"/>
<path d="M485.7 818.15V810.04M483.9 818.15h3.6M483.9 810.04h3.6" stroke="#000" stroke-opacity="0.52" stroke-width="1.0" fill="none"/>
<path d="M484.75 804.77V786.67M482.95 804.77h3.6M482.95 786.67h3.6" stroke="#000" stroke-opacity="0.52" stroke-width="1.0" fill="none"/>
<path d="M507.46 797.88V789.78M505.66 797.88h3.6M505.66 789.78h3.6" stroke="#000" stroke-opacity="0.52" stroke-width="1.0" fill="none"/>
<path d="M462.86 730.33V618.2M461.06 730.33h3.6M461.06 618.2h3.6" stroke="#000" stroke-opacity="0.52" stroke-width="1.0" fill="none"/>
<path d="M484.75 756.41V660.08M482.95 756.41h3.6M482.95 660.08h3.6" stroke="#000" stroke-opacity="0.52" stroke-width="1.0" fill="none"/>
<path d="M565.84 822.61V766.14M564.04 822.61h3.6M564.04 766.14h3.6" stroke="#000" stroke-opacity="0.52" stroke-width="1.0" fill="none"/>
<path d="M580.98 827.61V773.97M579.18 827.61h3.6M579.18 773.97h3.6" stroke="#000" stroke-opacity="0.52" stroke-width="1.0" fill="none"/>
<path d="M581.65 730.74V685.75M579.85 730.74h3.6M579.85 685.75h3.6" stroke="#000" stroke-opacity="0.52" stroke-width="1.0" fill="none"/>
<path d="M595.84 731.82V694.67M594.04 731.82h3.6M594.04 694.67h3.6" stroke="#000" stroke-opacity="0.52" stroke-width="1.0" fill="none"/>
<path d="M593 670.89V616.85M591.2 670.89h3.6M591.2 616.85h3.6" stroke="#000" stroke-opacity="0.52" stroke-width="1.0" fill="none"/>
<path d="M484.75 852.97L490.65 860.57L484.75 868.17L478.85 860.57Z" fill="none" stroke="#111" stroke-width="1.3"/>
<path d="M507.86 861.48L513.76 869.08L507.86 876.68L501.96 869.08Z" fill="none" stroke="#111" stroke-width="1.3"/>
<path d="M470.29 860.81L476.19 868.41L470.29 876.01L464.39 868.41Z" fill="none" stroke="#111" stroke-width="1.3"/>
<path d="M486.1 862.83L492 870.43L486.1 878.03L480.2 870.43Z" fill="none" stroke="#111" stroke-width="1.3"/>
<path d="M474.88 866.07L480.78 873.67L474.88 881.27L468.98 873.67Z" fill="none" stroke="#111" stroke-width="1.3"/>
<path d="M462.45 872.02L468.35 879.62L462.45 887.22L456.55 879.62Z" fill="none" stroke="#111" stroke-width="1.3"/>
<path d="M470.29 874.59L476.19 882.19L470.29 889.79L464.39 882.19Z" fill="none" stroke="#111" stroke-width="1.3"/>
<path d="M484.75 873.23L490.65 880.83L484.75 888.43L478.85 880.83Z" fill="none" stroke="#111" stroke-width="1.3"/>
<path d="M479.07 868.64L484.97 876.24L479.07 883.84L473.17 876.24Z" fill="none" stroke="#111" stroke-width="1.3"/>
<path d="M476.37 871.34L482.27 878.94L476.37 886.54L470.47 878.94Z" fill="none" stroke="#111" stroke-width="1.3"/>
<path d="M565.84 867.29L571.74 874.89L565.84 882.49L559.94 874.89Z" fill="none" stroke="#111" stroke-width="1.3"/>
<path d="M580.98 871.34L586.88 878.94L580.98 886.54L575.08 878.94Z" fill="none" stroke="#111" stroke-width="1.3"/>
<path d="M580.44 870.67L586.34 878.27L580.44 885.87L574.54 878.27Z" fill="none" stroke="#111" stroke-width="1.3"/>
<path d="M592.6 865.53L598.5 873.13L592.6 880.73L586.7 873.13Z" fill="none" stroke="#111" stroke-width="1.3"/>
<path d="M594.63 867.29L600.53 874.89L594.63 882.49L588.73 874.89Z" fill="none" stroke="#111" stroke-width="1.3"/>
<path d="M595.84 735.03L601.74 742.63L595.84 750.23L589.94 742.63Z" fill="none" stroke="#111" stroke-width="1.3"/>
<path d="M471.51 787.58L477.41 795.18L471.51 802.78L465.61 795.18Z" fill="none" stroke="#111" stroke-width="1.3"/>
</g>
<g clip-path="url(#cla)">
<line x1="51" y1="286.5" x2="324.8" y2="13.5" stroke="#2a2a2a" stroke-width="1.05"/>
</g>
<g clip-path="url(#clb)">
<line x1="411.5" y1="286.5" x2="684.5" y2="13.5" stroke="#2a2a2a" stroke-width="1.05"/>
</g>
<g clip-path="url(#clc)">
<line x1="51" y1="587.4" x2="324.7" y2="314.5" stroke="#2a2a2a" stroke-width="1.05"/>
</g>
<g clip-path="url(#cld)">
<line x1="411.5" y1="587.4" x2="684.5" y2="314.5" stroke="#2a2a2a" stroke-width="1.05"/>
</g>
<g clip-path="url(#cle)">
<line x1="51" y1="888.4" x2="324.7" y2="615.5" stroke="#2a2a2a" stroke-width="1.05"/>
</g>
<g clip-path="url(#clf)">
<line x1="411.5" y1="888.4" x2="684.5" y2="615.5" stroke="#2a2a2a" stroke-width="1.05"/>
</g>
<rect x="56.5" y="19.5" width="130" height="130" fill="#fff" stroke="#7a7a7a" stroke-width="1"/>
<rect x="64.09" y="24.59" width="8.82" height="8.82" fill="#000000" stroke="#1a1a1a" stroke-width="0.7"/>
<text transform="translate(80.5,34.5) scale(1,1.06)" font-size="15.5">Africa</text>
<path d="M68.5 40.41L73.75 47.55L68.5 54.69L63.25 47.55Z" fill="#0000FF" stroke="#1a1a1a" stroke-width="0.7"/>
<text transform="translate(80.5,53.05) scale(1,1.06)" font-size="15.5">Asia</text>
<path d="M68.5 60.32L74.8 70.82L62.2 70.82Z" fill="#0072BD" stroke="#1a1a1a" stroke-width="0.7"/>
<text transform="translate(80.5,71.6) scale(1,1.06)" font-size="15.5">Australia</text>
<path d="M74.28 84.65L63.77 78.35L63.77 90.95Z" fill="#D95319" stroke="#1a1a1a" stroke-width="0.7"/>
<text transform="translate(80.5,90.15) scale(1,1.06)" font-size="15.5">North America</text>
<circle cx="68.5" cy="103.2" r="5.25" fill="#EDB120" stroke="#1a1a1a" stroke-width="0.7"/>
<text transform="translate(80.5,108.7) scale(1,1.06)" font-size="15.5">Oceania</text>
<path d="M68.5 115.97L69.86 119.88L73.99 119.97L70.7 122.46L71.89 126.42L68.5 124.06L65.11 126.42L66.3 122.46L63.01 119.97L67.14 119.88Z" fill="#7E2F8E" stroke="#1a1a1a" stroke-width="0.7"/>
<text transform="translate(80.5,127.25) scale(1,1.06)" font-size="15.5">South America</text>
<path d="M68.5 135.05L70.02 137.66L73.05 137.68L71.55 140.3L73.05 142.93L70.02 142.94L68.5 145.55L66.98 142.94L63.95 142.93L65.45 140.3L63.95 137.68L66.98 137.66Z" fill="#77AC30" stroke="#1a1a1a" stroke-width="0.7"/>
<text transform="translate(80.5,145.8) scale(1,1.06)" font-size="15.5">Europe</text>
<rect x="56.5" y="320.5" width="130" height="130" fill="#fff" stroke="#7a7a7a" stroke-width="1"/>
<rect x="64.09" y="325.59" width="8.82" height="8.82" fill="#000000" stroke="#1a1a1a" stroke-width="0.7"/>
<text transform="translate(80.5,335.5) scale(1,1.06)" font-size="15.5">Africa</text>
<path d="M68.5 341.41L73.75 348.55L68.5 355.69L63.25 348.55Z" fill="#0000FF" stroke="#1a1a1a" stroke-width="0.7"/>
<text transform="translate(80.5,354.05) scale(1,1.06)" font-size="15.5">Asia</text>
<path d="M68.5 361.33L74.8 371.83L62.2 371.83Z" fill="#0072BD" stroke="#1a1a1a" stroke-width="0.7"/>
<text transform="translate(80.5,372.6) scale(1,1.06)" font-size="15.5">Australia</text>
<path d="M74.28 385.65L63.77 379.35L63.77 391.95Z" fill="#D95319" stroke="#1a1a1a" stroke-width="0.7"/>
<text transform="translate(80.5,391.15) scale(1,1.06)" font-size="15.5">North America</text>
<circle cx="68.5" cy="404.2" r="5.25" fill="#EDB120" stroke="#1a1a1a" stroke-width="0.7"/>
<text transform="translate(80.5,409.7) scale(1,1.06)" font-size="15.5">Oceania</text>
<path d="M68.5 416.98L69.86 420.88L73.99 420.97L70.7 423.46L71.89 427.42L68.5 425.06L65.11 427.42L66.3 423.46L63.01 420.97L67.14 420.88Z" fill="#7E2F8E" stroke="#1a1a1a" stroke-width="0.7"/>
<text transform="translate(80.5,428.25) scale(1,1.06)" font-size="15.5">South America</text>
<path d="M68.5 436.05L70.02 438.66L73.05 438.68L71.55 441.3L73.05 443.93L70.02 443.94L68.5 446.55L66.98 443.94L63.95 443.93L65.45 441.3L63.95 438.68L66.98 438.66Z" fill="#77AC30" stroke="#1a1a1a" stroke-width="0.7"/>
<text transform="translate(80.5,446.8) scale(1,1.06)" font-size="15.5">Europe</text>
<rect x="56.5" y="621.5" width="130" height="130" fill="#fff" stroke="#7a7a7a" stroke-width="1"/>
<rect x="64.09" y="626.59" width="8.82" height="8.82" fill="#000000" stroke="#1a1a1a" stroke-width="0.7"/>
<text transform="translate(80.5,636.5) scale(1,1.06)" font-size="15.5">Africa</text>
<path d="M68.5 642.41L73.75 649.55L68.5 656.69L63.25 649.55Z" fill="#0000FF" stroke="#1a1a1a" stroke-width="0.7"/>
<text transform="translate(80.5,655.05) scale(1,1.06)" font-size="15.5">Asia</text>
<path d="M68.5 662.33L74.8 672.83L62.2 672.83Z" fill="#0072BD" stroke="#1a1a1a" stroke-width="0.7"/>
<text transform="translate(80.5,673.6) scale(1,1.06)" font-size="15.5">Australia</text>
<path d="M74.28 686.65L63.77 680.35L63.77 692.95Z" fill="#D95319" stroke="#1a1a1a" stroke-width="0.7"/>
<text transform="translate(80.5,692.15) scale(1,1.06)" font-size="15.5">North America</text>
<circle cx="68.5" cy="705.2" r="5.25" fill="#EDB120" stroke="#1a1a1a" stroke-width="0.7"/>
<text transform="translate(80.5,710.7) scale(1,1.06)" font-size="15.5">Oceania</text>
<path d="M68.5 717.98L69.86 721.88L73.99 721.97L70.7 724.46L71.89 728.42L68.5 726.06L65.11 728.42L66.3 724.46L63.01 721.97L67.14 721.88Z" fill="#7E2F8E" stroke="#1a1a1a" stroke-width="0.7"/>
<text transform="translate(80.5,729.25) scale(1,1.06)" font-size="15.5">South America</text>
<path d="M68.5 737.05L70.02 739.66L73.05 739.67L71.55 742.3L73.05 744.92L70.02 744.94L68.5 747.55L66.98 744.94L63.95 744.92L65.45 742.3L63.95 739.67L66.98 739.66Z" fill="#77AC30" stroke="#1a1a1a" stroke-width="0.7"/>
<text transform="translate(80.5,747.8) scale(1,1.06)" font-size="15.5">Europe</text>
<text x="54.5" y="464.6" font-size="11.6">Blank symbols: HWSD</text>
<text x="192.5" y="883.6" font-size="11.6">Blank symbols: WISE-30</text>
<circle cx="486.8" cy="324.2" r="5.1" fill="none" stroke="#111" stroke-width="1.2"/>
<text x="497" y="328.4" font-size="12.4">Present study</text>
<rect x="481.8" y="339.3" width="10" height="10" fill="none" stroke="#111" stroke-width="1.2"/>
<text x="497" y="348.7" font-size="12.4">HWSD</text>
<circle cx="496.1" cy="624.5" r="5.1" fill="none" stroke="#111" stroke-width="1.2"/>
<text x="507" y="628.9" font-size="12.4">Present study</text>
<path d="M496 639.8L502 645.3L496 650.8L490 645.3Z" fill="none" stroke="#111" stroke-width="1.2"/>
<text x="507" y="648.6" font-size="12.4">WISE-30</text>
</svg></body></html>
